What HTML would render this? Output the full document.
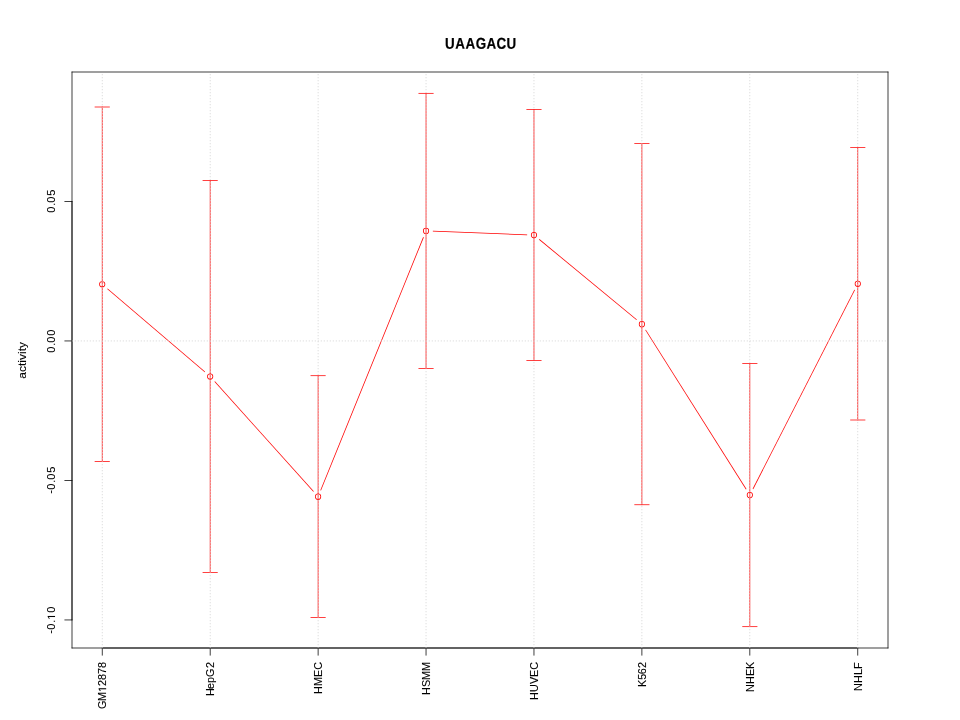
<!DOCTYPE html>
<html><head><meta charset="utf-8"><title>UAAGACU</title>
<style>
html,body{margin:0;padding:0;background:#fff;}
svg{display:block;will-change:transform;}
text{font-family:"Liberation Sans",sans-serif;fill:#000;}
.v{width:.75px;height:1.333px}
.h{width:1.333px;height:.75px}
</style></head><body>
<svg width="960" height="720" viewBox="0 0 960 720">
<rect width="960" height="720" fill="#fff"/>
<g fill="#f00" stroke="none">
<path d="M107.165 288.969L204.728 372.351L205.215 371.781L107.652 288.399Z"/>
<path d="M214.442 381.828L313.26 491.824L313.818 491.322L215 381.326Z"/>
<path d="M321.016 490.468L423.809 237.379L423.114 237.097L320.321 490.186Z"/>
<path d="M432.836 231.551L527.136 235.163L527.164 234.414L432.864 230.802Z"/>
<path d="M538.995 239.683L636.397 320.07L636.875 319.492L539.473 239.105Z"/>
<path d="M645.227 330.096L745.879 489.514L746.513 489.114L645.861 329.696Z"/>
<path d="M753.278 489.177L855.01 289.999L854.342 289.658L752.61 488.836Z"/>
<path fill-rule="evenodd" d="M99.145 284.25A3.075 3.075 0 1 0 105.295 284.25A3.075 3.075 0 1 0 99.145 284.25ZM99.895 284.25A2.325 2.325 0 1 0 104.545 284.25A2.325 2.325 0 1 0 99.895 284.25Z"/>
<path fill-rule="evenodd" d="M207.085 376.5A3.075 3.075 0 1 0 213.235 376.5A3.075 3.075 0 1 0 207.085 376.5ZM207.835 376.5A2.325 2.325 0 1 0 212.485 376.5A2.325 2.325 0 1 0 207.835 376.5Z"/>
<path fill-rule="evenodd" d="M315.025 496.65A3.075 3.075 0 1 0 321.175 496.65A3.075 3.075 0 1 0 315.025 496.65ZM315.775 496.65A2.325 2.325 0 1 0 320.425 496.65A2.325 2.325 0 1 0 315.775 496.65Z"/>
<path fill-rule="evenodd" d="M422.955 230.915A3.075 3.075 0 1 0 429.105 230.915A3.075 3.075 0 1 0 422.955 230.915ZM423.705 230.915A2.325 2.325 0 1 0 428.355 230.915A2.325 2.325 0 1 0 423.705 230.915Z"/>
<path fill-rule="evenodd" d="M530.895 235.05A3.075 3.075 0 1 0 537.045 235.05A3.075 3.075 0 1 0 530.895 235.05ZM531.645 235.05A2.325 2.325 0 1 0 536.295 235.05A2.325 2.325 0 1 0 531.645 235.05Z"/>
<path fill-rule="evenodd" d="M638.825 324.125A3.075 3.075 0 1 0 644.975 324.125A3.075 3.075 0 1 0 638.825 324.125ZM639.575 324.125A2.325 2.325 0 1 0 644.225 324.125A2.325 2.325 0 1 0 639.575 324.125Z"/>
<path fill-rule="evenodd" d="M746.765 495.085A3.075 3.075 0 1 0 752.915 495.085A3.075 3.075 0 1 0 746.765 495.085ZM747.515 495.085A2.325 2.325 0 1 0 752.165 495.085A2.325 2.325 0 1 0 747.515 495.085Z"/>
<path fill-rule="evenodd" d="M854.705 283.75A3.075 3.075 0 1 0 860.855 283.75A3.075 3.075 0 1 0 854.705 283.75ZM855.455 283.75A2.325 2.325 0 1 0 860.105 283.75A2.325 2.325 0 1 0 855.455 283.75Z"/>
</g>
<g fill="#000" stroke="none">
<rect x="71.625" y="201.075" width="0.75" height="419.25"/>
<rect x="64.425" y="201.075" width="7.95" height="0.75"/>
<rect x="64.425" y="340.575" width="7.95" height="0.75"/>
<rect x="64.425" y="480.075" width="7.95" height="0.75"/>
<rect x="64.425" y="619.575" width="7.95" height="0.75"/>
<rect x="71.625" y="71.625" width="0.75" height="576.75"/>
<rect x="71.625" y="71.625" width="816.75" height="0.75"/>
<rect x="887.625" y="71.625" width="0.75" height="576.75"/>
<rect x="71.625" y="647.625" width="816.75" height="0.75"/>
<rect x="101.845" y="647.625" width="756.31" height="0.75"/>
<rect x="101.845" y="647.625" width="0.75" height="7.95"/>
<rect x="209.785" y="647.625" width="0.75" height="7.95"/>
<rect x="317.725" y="647.625" width="0.75" height="7.95"/>
<rect x="425.655" y="647.625" width="0.75" height="7.95"/>
<rect x="533.595" y="647.625" width="0.75" height="7.95"/>
<rect x="641.525" y="647.625" width="0.75" height="7.95"/>
<rect x="749.465" y="647.625" width="0.75" height="7.95"/>
<rect x="857.405" y="647.625" width="0.75" height="7.95"/>
</g>
<g stroke="#000" stroke-width="0.1" stroke-linejoin="round">
<text transform="translate(0,48.3) rotate(0.05) scale(0.93,1.085)" font-size="14.4" font-weight="bold" stroke-width="0.2" x="478.571 489.542 500.456 511.648 523.198 533.949 544.539">UAAGACU</text>
<text transform="translate(26,0) rotate(-90) scale(1,0.88)" font-size="12" x="-378.687 -372.013 -366.013 -362.679 -360.013 -354.013 -351.347 -348.013">activity</text>
<text transform="translate(55,0) rotate(-90) scale(0.92,0.88)" font-size="12" x="-231.232 -223.768 -220.362 -212.754">0.05</text>
<text transform="translate(55,0) rotate(-90) scale(0.92,0.88)" font-size="12" x="-383.405 -375.942 -372.536 -364.927">0.00</text>
<text transform="translate(55,0) rotate(-90) scale(0.92,0.88)" font-size="12" x="-536.783 -532.319 -524.855 -521.449 -513.841" y="-0.909 0 0 0 0">-0.05</text>
<text transform="translate(55,0) rotate(-90) scale(0.92,0.88)" font-size="12" x="-688.957 -684.492 -677.029 -673.609 -666.014" y="-0.909 0 0 0 0">-0. 0</text><path transform="translate(55,619.72) rotate(-90) scale(0.005391,-0.005156)" d="M515 0V1237L197 1010V1180L530 1409H696V0Z" stroke-width="17.067"/>
<text transform="translate(106.12,0) rotate(-90) scale(1,1)" font-size="10.8" x="-709 -701 -692 -686 -680 -674 -668">GM 2878</text>
<path transform="translate(106.12,692) rotate(-90) scale(0.005273,-0.005273)" d="M515 0V1237L197 1010V1180L530 1409H696V0Z" stroke-width="18.963"/>
<text transform="translate(214.06,0) rotate(-90) scale(1,1)" font-size="10.8" x="-696 -689 -683 -677 -668">HepG2</text>
<text transform="translate(322,0) rotate(-90) scale(1,1)" font-size="10.8" x="-694 -686 -677 -669.7">HMEC</text>
<text transform="translate(429.93,0) rotate(-90) scale(1,1)" font-size="10.8" x="-695 -687 -680 -671">HSMM</text>
<text transform="translate(537.87,0) rotate(-90) scale(1,1)" font-size="10.8" x="-700 -692 -684 -677 -669.7">HUVEC</text>
<text transform="translate(645.8,0) rotate(-90) scale(1,1)" font-size="10.8" x="-687 -679.7 -674.3 -668">K562</text>
<text transform="translate(753.74,0) rotate(-90) scale(1,1)" font-size="10.8" x="-692 -684 -676 -669">NHEK</text>
<text transform="translate(861.68,0) rotate(-90) scale(1,1)" font-size="10.8" x="-691 -683 -675 -669">NHLF</text>
</g>
<g fill="#f00" stroke="none">
<rect x="101.845" y="106.625" width="0.75" height="355.25"/>
<rect x="94.645" y="106.625" width="15.15" height="0.75"/>
<rect x="94.645" y="461.125" width="15.15" height="0.75"/>
<rect x="209.785" y="180.125" width="0.75" height="392.75"/>
<rect x="202.585" y="180.125" width="15.15" height="0.75"/>
<rect x="202.585" y="572.125" width="15.15" height="0.75"/>
<rect x="317.725" y="375.325" width="0.75" height="242.65"/>
<rect x="310.525" y="375.325" width="15.15" height="0.75"/>
<rect x="310.525" y="617.225" width="15.15" height="0.75"/>
<rect x="425.655" y="92.955" width="0.75" height="275.92"/>
<rect x="418.455" y="92.955" width="15.15" height="0.75"/>
<rect x="418.455" y="368.125" width="15.15" height="0.75"/>
<rect x="533.595" y="109.225" width="0.75" height="251.65"/>
<rect x="526.395" y="109.225" width="15.15" height="0.75"/>
<rect x="526.395" y="360.125" width="15.15" height="0.75"/>
<rect x="641.525" y="143.125" width="0.75" height="362"/>
<rect x="634.325" y="143.125" width="15.15" height="0.75"/>
<rect x="634.325" y="504.375" width="15.15" height="0.75"/>
<rect x="749.465" y="363.125" width="0.75" height="263.92"/>
<rect x="742.265" y="363.125" width="15.15" height="0.75"/>
<rect x="742.265" y="626.295" width="15.15" height="0.75"/>
<rect x="857.405" y="147.125" width="0.75" height="273.25"/>
<rect x="850.205" y="147.125" width="15.15" height="0.75"/>
<rect x="850.205" y="419.625" width="15.15" height="0.75"/>
</g>
<g fill="#d3d3d3" stroke="none">
<rect class="v" x="101.845" y="646.958"/>
<rect class="v" x="101.845" y="643.958"/>
<rect class="v" x="101.845" y="640.958"/>
<rect class="v" x="101.845" y="637.958"/>
<rect class="v" x="101.845" y="634.958"/>
<rect class="v" x="101.845" y="631.958"/>
<rect class="v" x="101.845" y="628.958"/>
<rect class="v" x="101.845" y="625.958"/>
<rect class="v" x="101.845" y="622.958"/>
<rect class="v" x="101.845" y="619.958"/>
<rect class="v" x="101.845" y="616.958"/>
<rect class="v" x="101.845" y="613.958"/>
<rect class="v" x="101.845" y="610.958"/>
<rect class="v" x="101.845" y="607.958"/>
<rect class="v" x="101.845" y="604.958"/>
<rect class="v" x="101.845" y="601.958"/>
<rect class="v" x="101.845" y="598.958"/>
<rect class="v" x="101.845" y="595.958"/>
<rect class="v" x="101.845" y="592.958"/>
<rect class="v" x="101.845" y="589.958"/>
<rect class="v" x="101.845" y="586.958"/>
<rect class="v" x="101.845" y="583.958"/>
<rect class="v" x="101.845" y="580.958"/>
<rect class="v" x="101.845" y="577.958"/>
<rect class="v" x="101.845" y="574.958"/>
<rect class="v" x="101.845" y="571.958"/>
<rect class="v" x="101.845" y="568.958"/>
<rect class="v" x="101.845" y="565.958"/>
<rect class="v" x="101.845" y="562.958"/>
<rect class="v" x="101.845" y="559.958"/>
<rect class="v" x="101.845" y="556.958"/>
<rect class="v" x="101.845" y="553.958"/>
<rect class="v" x="101.845" y="550.958"/>
<rect class="v" x="101.845" y="547.958"/>
<rect class="v" x="101.845" y="544.958"/>
<rect class="v" x="101.845" y="541.958"/>
<rect class="v" x="101.845" y="538.958"/>
<rect class="v" x="101.845" y="535.958"/>
<rect class="v" x="101.845" y="532.958"/>
<rect class="v" x="101.845" y="529.958"/>
<rect class="v" x="101.845" y="526.958"/>
<rect class="v" x="101.845" y="523.958"/>
<rect class="v" x="101.845" y="520.958"/>
<rect class="v" x="101.845" y="517.958"/>
<rect class="v" x="101.845" y="514.958"/>
<rect class="v" x="101.845" y="511.959"/>
<rect class="v" x="101.845" y="508.959"/>
<rect class="v" x="101.845" y="505.959"/>
<rect class="v" x="101.845" y="502.959"/>
<rect class="v" x="101.845" y="499.959"/>
<rect class="v" x="101.845" y="496.959"/>
<rect class="v" x="101.845" y="493.959"/>
<rect class="v" x="101.845" y="490.959"/>
<rect class="v" x="101.845" y="487.959"/>
<rect class="v" x="101.845" y="484.959"/>
<rect class="v" x="101.845" y="481.959"/>
<rect class="v" x="101.845" y="478.959"/>
<rect class="v" x="101.845" y="475.959"/>
<rect class="v" x="101.845" y="472.959"/>
<rect class="v" x="101.845" y="469.959"/>
<rect class="v" x="101.845" y="466.959"/>
<rect class="v" x="101.845" y="463.959"/>
<rect class="v" x="101.845" y="460.959"/>
<rect class="v" x="101.845" y="457.959"/>
<rect class="v" x="101.845" y="454.959"/>
<rect class="v" x="101.845" y="451.959"/>
<rect class="v" x="101.845" y="448.959"/>
<rect class="v" x="101.845" y="445.959"/>
<rect class="v" x="101.845" y="442.959"/>
<rect class="v" x="101.845" y="439.959"/>
<rect class="v" x="101.845" y="436.959"/>
<rect class="v" x="101.845" y="433.959"/>
<rect class="v" x="101.845" y="430.959"/>
<rect class="v" x="101.845" y="427.959"/>
<rect class="v" x="101.845" y="424.959"/>
<rect class="v" x="101.845" y="421.959"/>
<rect class="v" x="101.845" y="418.959"/>
<rect class="v" x="101.845" y="415.959"/>
<rect class="v" x="101.845" y="412.959"/>
<rect class="v" x="101.845" y="409.959"/>
<rect class="v" x="101.845" y="406.959"/>
<rect class="v" x="101.845" y="403.959"/>
<rect class="v" x="101.845" y="400.959"/>
<rect class="v" x="101.845" y="397.959"/>
<rect class="v" x="101.845" y="394.959"/>
<rect class="v" x="101.845" y="391.959"/>
<rect class="v" x="101.845" y="388.959"/>
<rect class="v" x="101.845" y="385.959"/>
<rect class="v" x="101.845" y="382.959"/>
<rect class="v" x="101.845" y="379.959"/>
<rect class="v" x="101.845" y="376.959"/>
<rect class="v" x="101.845" y="373.959"/>
<rect class="v" x="101.845" y="370.959"/>
<rect class="v" x="101.845" y="367.959"/>
<rect class="v" x="101.845" y="364.959"/>
<rect class="v" x="101.845" y="361.959"/>
<rect class="v" x="101.845" y="358.959"/>
<rect class="v" x="101.845" y="355.959"/>
<rect class="v" x="101.845" y="352.959"/>
<rect class="v" x="101.845" y="349.959"/>
<rect class="v" x="101.845" y="346.959"/>
<rect class="v" x="101.845" y="343.959"/>
<rect class="v" x="101.845" y="340.959"/>
<rect class="v" x="101.845" y="337.959"/>
<rect class="v" x="101.845" y="334.959"/>
<rect class="v" x="101.845" y="331.959"/>
<rect class="v" x="101.845" y="328.959"/>
<rect class="v" x="101.845" y="325.959"/>
<rect class="v" x="101.845" y="322.959"/>
<rect class="v" x="101.845" y="319.959"/>
<rect class="v" x="101.845" y="316.959"/>
<rect class="v" x="101.845" y="313.959"/>
<rect class="v" x="101.845" y="310.959"/>
<rect class="v" x="101.845" y="307.959"/>
<rect class="v" x="101.845" y="304.959"/>
<rect class="v" x="101.845" y="301.959"/>
<rect class="v" x="101.845" y="298.959"/>
<rect class="v" x="101.845" y="295.959"/>
<rect class="v" x="101.845" y="292.959"/>
<rect class="v" x="101.845" y="289.959"/>
<rect class="v" x="101.845" y="286.959"/>
<rect class="v" x="101.845" y="283.959"/>
<rect class="v" x="101.845" y="280.959"/>
<rect class="v" x="101.845" y="277.959"/>
<rect class="v" x="101.845" y="274.959"/>
<rect class="v" x="101.845" y="271.959"/>
<rect class="v" x="101.845" y="268.959"/>
<rect class="v" x="101.845" y="265.959"/>
<rect class="v" x="101.845" y="262.959"/>
<rect class="v" x="101.845" y="259.959"/>
<rect class="v" x="101.845" y="256.959"/>
<rect class="v" x="101.845" y="253.958"/>
<rect class="v" x="101.845" y="250.958"/>
<rect class="v" x="101.845" y="247.958"/>
<rect class="v" x="101.845" y="244.958"/>
<rect class="v" x="101.845" y="241.958"/>
<rect class="v" x="101.845" y="238.958"/>
<rect class="v" x="101.845" y="235.958"/>
<rect class="v" x="101.845" y="232.958"/>
<rect class="v" x="101.845" y="229.958"/>
<rect class="v" x="101.845" y="226.958"/>
<rect class="v" x="101.845" y="223.958"/>
<rect class="v" x="101.845" y="220.958"/>
<rect class="v" x="101.845" y="217.958"/>
<rect class="v" x="101.845" y="214.958"/>
<rect class="v" x="101.845" y="211.958"/>
<rect class="v" x="101.845" y="208.958"/>
<rect class="v" x="101.845" y="205.958"/>
<rect class="v" x="101.845" y="202.958"/>
<rect class="v" x="101.845" y="199.958"/>
<rect class="v" x="101.845" y="196.958"/>
<rect class="v" x="101.845" y="193.958"/>
<rect class="v" x="101.845" y="190.958"/>
<rect class="v" x="101.845" y="187.958"/>
<rect class="v" x="101.845" y="184.958"/>
<rect class="v" x="101.845" y="181.958"/>
<rect class="v" x="101.845" y="178.958"/>
<rect class="v" x="101.845" y="175.958"/>
<rect class="v" x="101.845" y="172.958"/>
<rect class="v" x="101.845" y="169.958"/>
<rect class="v" x="101.845" y="166.958"/>
<rect class="v" x="101.845" y="163.958"/>
<rect class="v" x="101.845" y="160.958"/>
<rect class="v" x="101.845" y="157.958"/>
<rect class="v" x="101.845" y="154.958"/>
<rect class="v" x="101.845" y="151.958"/>
<rect class="v" x="101.845" y="148.958"/>
<rect class="v" x="101.845" y="145.958"/>
<rect class="v" x="101.845" y="142.958"/>
<rect class="v" x="101.845" y="139.958"/>
<rect class="v" x="101.845" y="136.958"/>
<rect class="v" x="101.845" y="133.958"/>
<rect class="v" x="101.845" y="130.958"/>
<rect class="v" x="101.845" y="127.959"/>
<rect class="v" x="101.845" y="124.959"/>
<rect class="v" x="101.845" y="121.959"/>
<rect class="v" x="101.845" y="118.959"/>
<rect class="v" x="101.845" y="115.959"/>
<rect class="v" x="101.845" y="112.959"/>
<rect class="v" x="101.845" y="109.959"/>
<rect class="v" x="101.845" y="106.959"/>
<rect class="v" x="101.845" y="103.959"/>
<rect class="v" x="101.845" y="100.959"/>
<rect class="v" x="101.845" y="97.959"/>
<rect class="v" x="101.845" y="94.959"/>
<rect class="v" x="101.845" y="91.959"/>
<rect class="v" x="101.845" y="88.959"/>
<rect class="v" x="101.845" y="85.959"/>
<rect class="v" x="101.845" y="82.959"/>
<rect class="v" x="101.845" y="79.959"/>
<rect class="v" x="101.845" y="76.959"/>
<rect class="v" x="101.845" y="73.959"/>
<rect class="v" x="209.785" y="646.958"/>
<rect class="v" x="209.785" y="643.958"/>
<rect class="v" x="209.785" y="640.958"/>
<rect class="v" x="209.785" y="637.958"/>
<rect class="v" x="209.785" y="634.958"/>
<rect class="v" x="209.785" y="631.958"/>
<rect class="v" x="209.785" y="628.958"/>
<rect class="v" x="209.785" y="625.958"/>
<rect class="v" x="209.785" y="622.958"/>
<rect class="v" x="209.785" y="619.958"/>
<rect class="v" x="209.785" y="616.958"/>
<rect class="v" x="209.785" y="613.958"/>
<rect class="v" x="209.785" y="610.958"/>
<rect class="v" x="209.785" y="607.958"/>
<rect class="v" x="209.785" y="604.958"/>
<rect class="v" x="209.785" y="601.958"/>
<rect class="v" x="209.785" y="598.958"/>
<rect class="v" x="209.785" y="595.958"/>
<rect class="v" x="209.785" y="592.958"/>
<rect class="v" x="209.785" y="589.958"/>
<rect class="v" x="209.785" y="586.958"/>
<rect class="v" x="209.785" y="583.958"/>
<rect class="v" x="209.785" y="580.958"/>
<rect class="v" x="209.785" y="577.958"/>
<rect class="v" x="209.785" y="574.958"/>
<rect class="v" x="209.785" y="571.958"/>
<rect class="v" x="209.785" y="568.958"/>
<rect class="v" x="209.785" y="565.958"/>
<rect class="v" x="209.785" y="562.958"/>
<rect class="v" x="209.785" y="559.958"/>
<rect class="v" x="209.785" y="556.958"/>
<rect class="v" x="209.785" y="553.958"/>
<rect class="v" x="209.785" y="550.958"/>
<rect class="v" x="209.785" y="547.958"/>
<rect class="v" x="209.785" y="544.958"/>
<rect class="v" x="209.785" y="541.958"/>
<rect class="v" x="209.785" y="538.958"/>
<rect class="v" x="209.785" y="535.958"/>
<rect class="v" x="209.785" y="532.958"/>
<rect class="v" x="209.785" y="529.958"/>
<rect class="v" x="209.785" y="526.958"/>
<rect class="v" x="209.785" y="523.958"/>
<rect class="v" x="209.785" y="520.958"/>
<rect class="v" x="209.785" y="517.958"/>
<rect class="v" x="209.785" y="514.958"/>
<rect class="v" x="209.785" y="511.959"/>
<rect class="v" x="209.785" y="508.959"/>
<rect class="v" x="209.785" y="505.959"/>
<rect class="v" x="209.785" y="502.959"/>
<rect class="v" x="209.785" y="499.959"/>
<rect class="v" x="209.785" y="496.959"/>
<rect class="v" x="209.785" y="493.959"/>
<rect class="v" x="209.785" y="490.959"/>
<rect class="v" x="209.785" y="487.959"/>
<rect class="v" x="209.785" y="484.959"/>
<rect class="v" x="209.785" y="481.959"/>
<rect class="v" x="209.785" y="478.959"/>
<rect class="v" x="209.785" y="475.959"/>
<rect class="v" x="209.785" y="472.959"/>
<rect class="v" x="209.785" y="469.959"/>
<rect class="v" x="209.785" y="466.959"/>
<rect class="v" x="209.785" y="463.959"/>
<rect class="v" x="209.785" y="460.959"/>
<rect class="v" x="209.785" y="457.959"/>
<rect class="v" x="209.785" y="454.959"/>
<rect class="v" x="209.785" y="451.959"/>
<rect class="v" x="209.785" y="448.959"/>
<rect class="v" x="209.785" y="445.959"/>
<rect class="v" x="209.785" y="442.959"/>
<rect class="v" x="209.785" y="439.959"/>
<rect class="v" x="209.785" y="436.959"/>
<rect class="v" x="209.785" y="433.959"/>
<rect class="v" x="209.785" y="430.959"/>
<rect class="v" x="209.785" y="427.959"/>
<rect class="v" x="209.785" y="424.959"/>
<rect class="v" x="209.785" y="421.959"/>
<rect class="v" x="209.785" y="418.959"/>
<rect class="v" x="209.785" y="415.959"/>
<rect class="v" x="209.785" y="412.959"/>
<rect class="v" x="209.785" y="409.959"/>
<rect class="v" x="209.785" y="406.959"/>
<rect class="v" x="209.785" y="403.959"/>
<rect class="v" x="209.785" y="400.959"/>
<rect class="v" x="209.785" y="397.959"/>
<rect class="v" x="209.785" y="394.959"/>
<rect class="v" x="209.785" y="391.959"/>
<rect class="v" x="209.785" y="388.959"/>
<rect class="v" x="209.785" y="385.959"/>
<rect class="v" x="209.785" y="382.959"/>
<rect class="v" x="209.785" y="379.959"/>
<rect class="v" x="209.785" y="376.959"/>
<rect class="v" x="209.785" y="373.959"/>
<rect class="v" x="209.785" y="370.959"/>
<rect class="v" x="209.785" y="367.959"/>
<rect class="v" x="209.785" y="364.959"/>
<rect class="v" x="209.785" y="361.959"/>
<rect class="v" x="209.785" y="358.959"/>
<rect class="v" x="209.785" y="355.959"/>
<rect class="v" x="209.785" y="352.959"/>
<rect class="v" x="209.785" y="349.959"/>
<rect class="v" x="209.785" y="346.959"/>
<rect class="v" x="209.785" y="343.959"/>
<rect class="v" x="209.785" y="340.959"/>
<rect class="v" x="209.785" y="337.959"/>
<rect class="v" x="209.785" y="334.959"/>
<rect class="v" x="209.785" y="331.959"/>
<rect class="v" x="209.785" y="328.959"/>
<rect class="v" x="209.785" y="325.959"/>
<rect class="v" x="209.785" y="322.959"/>
<rect class="v" x="209.785" y="319.959"/>
<rect class="v" x="209.785" y="316.959"/>
<rect class="v" x="209.785" y="313.959"/>
<rect class="v" x="209.785" y="310.959"/>
<rect class="v" x="209.785" y="307.959"/>
<rect class="v" x="209.785" y="304.959"/>
<rect class="v" x="209.785" y="301.959"/>
<rect class="v" x="209.785" y="298.959"/>
<rect class="v" x="209.785" y="295.959"/>
<rect class="v" x="209.785" y="292.959"/>
<rect class="v" x="209.785" y="289.959"/>
<rect class="v" x="209.785" y="286.959"/>
<rect class="v" x="209.785" y="283.959"/>
<rect class="v" x="209.785" y="280.959"/>
<rect class="v" x="209.785" y="277.959"/>
<rect class="v" x="209.785" y="274.959"/>
<rect class="v" x="209.785" y="271.959"/>
<rect class="v" x="209.785" y="268.959"/>
<rect class="v" x="209.785" y="265.959"/>
<rect class="v" x="209.785" y="262.959"/>
<rect class="v" x="209.785" y="259.959"/>
<rect class="v" x="209.785" y="256.959"/>
<rect class="v" x="209.785" y="253.958"/>
<rect class="v" x="209.785" y="250.958"/>
<rect class="v" x="209.785" y="247.958"/>
<rect class="v" x="209.785" y="244.958"/>
<rect class="v" x="209.785" y="241.958"/>
<rect class="v" x="209.785" y="238.958"/>
<rect class="v" x="209.785" y="235.958"/>
<rect class="v" x="209.785" y="232.958"/>
<rect class="v" x="209.785" y="229.958"/>
<rect class="v" x="209.785" y="226.958"/>
<rect class="v" x="209.785" y="223.958"/>
<rect class="v" x="209.785" y="220.958"/>
<rect class="v" x="209.785" y="217.958"/>
<rect class="v" x="209.785" y="214.958"/>
<rect class="v" x="209.785" y="211.958"/>
<rect class="v" x="209.785" y="208.958"/>
<rect class="v" x="209.785" y="205.958"/>
<rect class="v" x="209.785" y="202.958"/>
<rect class="v" x="209.785" y="199.958"/>
<rect class="v" x="209.785" y="196.958"/>
<rect class="v" x="209.785" y="193.958"/>
<rect class="v" x="209.785" y="190.958"/>
<rect class="v" x="209.785" y="187.958"/>
<rect class="v" x="209.785" y="184.958"/>
<rect class="v" x="209.785" y="181.958"/>
<rect class="v" x="209.785" y="178.958"/>
<rect class="v" x="209.785" y="175.958"/>
<rect class="v" x="209.785" y="172.958"/>
<rect class="v" x="209.785" y="169.958"/>
<rect class="v" x="209.785" y="166.958"/>
<rect class="v" x="209.785" y="163.958"/>
<rect class="v" x="209.785" y="160.958"/>
<rect class="v" x="209.785" y="157.958"/>
<rect class="v" x="209.785" y="154.958"/>
<rect class="v" x="209.785" y="151.958"/>
<rect class="v" x="209.785" y="148.958"/>
<rect class="v" x="209.785" y="145.958"/>
<rect class="v" x="209.785" y="142.958"/>
<rect class="v" x="209.785" y="139.958"/>
<rect class="v" x="209.785" y="136.958"/>
<rect class="v" x="209.785" y="133.958"/>
<rect class="v" x="209.785" y="130.958"/>
<rect class="v" x="209.785" y="127.959"/>
<rect class="v" x="209.785" y="124.959"/>
<rect class="v" x="209.785" y="121.959"/>
<rect class="v" x="209.785" y="118.959"/>
<rect class="v" x="209.785" y="115.959"/>
<rect class="v" x="209.785" y="112.959"/>
<rect class="v" x="209.785" y="109.959"/>
<rect class="v" x="209.785" y="106.959"/>
<rect class="v" x="209.785" y="103.959"/>
<rect class="v" x="209.785" y="100.959"/>
<rect class="v" x="209.785" y="97.959"/>
<rect class="v" x="209.785" y="94.959"/>
<rect class="v" x="209.785" y="91.959"/>
<rect class="v" x="209.785" y="88.959"/>
<rect class="v" x="209.785" y="85.959"/>
<rect class="v" x="209.785" y="82.959"/>
<rect class="v" x="209.785" y="79.959"/>
<rect class="v" x="209.785" y="76.959"/>
<rect class="v" x="209.785" y="73.959"/>
<rect class="v" x="317.725" y="646.958"/>
<rect class="v" x="317.725" y="643.958"/>
<rect class="v" x="317.725" y="640.958"/>
<rect class="v" x="317.725" y="637.958"/>
<rect class="v" x="317.725" y="634.958"/>
<rect class="v" x="317.725" y="631.958"/>
<rect class="v" x="317.725" y="628.958"/>
<rect class="v" x="317.725" y="625.958"/>
<rect class="v" x="317.725" y="622.958"/>
<rect class="v" x="317.725" y="619.958"/>
<rect class="v" x="317.725" y="616.958"/>
<rect class="v" x="317.725" y="613.958"/>
<rect class="v" x="317.725" y="610.958"/>
<rect class="v" x="317.725" y="607.958"/>
<rect class="v" x="317.725" y="604.958"/>
<rect class="v" x="317.725" y="601.958"/>
<rect class="v" x="317.725" y="598.958"/>
<rect class="v" x="317.725" y="595.958"/>
<rect class="v" x="317.725" y="592.958"/>
<rect class="v" x="317.725" y="589.958"/>
<rect class="v" x="317.725" y="586.958"/>
<rect class="v" x="317.725" y="583.958"/>
<rect class="v" x="317.725" y="580.958"/>
<rect class="v" x="317.725" y="577.958"/>
<rect class="v" x="317.725" y="574.958"/>
<rect class="v" x="317.725" y="571.958"/>
<rect class="v" x="317.725" y="568.958"/>
<rect class="v" x="317.725" y="565.958"/>
<rect class="v" x="317.725" y="562.958"/>
<rect class="v" x="317.725" y="559.958"/>
<rect class="v" x="317.725" y="556.958"/>
<rect class="v" x="317.725" y="553.958"/>
<rect class="v" x="317.725" y="550.958"/>
<rect class="v" x="317.725" y="547.958"/>
<rect class="v" x="317.725" y="544.958"/>
<rect class="v" x="317.725" y="541.958"/>
<rect class="v" x="317.725" y="538.958"/>
<rect class="v" x="317.725" y="535.958"/>
<rect class="v" x="317.725" y="532.958"/>
<rect class="v" x="317.725" y="529.958"/>
<rect class="v" x="317.725" y="526.958"/>
<rect class="v" x="317.725" y="523.958"/>
<rect class="v" x="317.725" y="520.958"/>
<rect class="v" x="317.725" y="517.958"/>
<rect class="v" x="317.725" y="514.958"/>
<rect class="v" x="317.725" y="511.959"/>
<rect class="v" x="317.725" y="508.959"/>
<rect class="v" x="317.725" y="505.959"/>
<rect class="v" x="317.725" y="502.959"/>
<rect class="v" x="317.725" y="499.959"/>
<rect class="v" x="317.725" y="496.959"/>
<rect class="v" x="317.725" y="493.959"/>
<rect class="v" x="317.725" y="490.959"/>
<rect class="v" x="317.725" y="487.959"/>
<rect class="v" x="317.725" y="484.959"/>
<rect class="v" x="317.725" y="481.959"/>
<rect class="v" x="317.725" y="478.959"/>
<rect class="v" x="317.725" y="475.959"/>
<rect class="v" x="317.725" y="472.959"/>
<rect class="v" x="317.725" y="469.959"/>
<rect class="v" x="317.725" y="466.959"/>
<rect class="v" x="317.725" y="463.959"/>
<rect class="v" x="317.725" y="460.959"/>
<rect class="v" x="317.725" y="457.959"/>
<rect class="v" x="317.725" y="454.959"/>
<rect class="v" x="317.725" y="451.959"/>
<rect class="v" x="317.725" y="448.959"/>
<rect class="v" x="317.725" y="445.959"/>
<rect class="v" x="317.725" y="442.959"/>
<rect class="v" x="317.725" y="439.959"/>
<rect class="v" x="317.725" y="436.959"/>
<rect class="v" x="317.725" y="433.959"/>
<rect class="v" x="317.725" y="430.959"/>
<rect class="v" x="317.725" y="427.959"/>
<rect class="v" x="317.725" y="424.959"/>
<rect class="v" x="317.725" y="421.959"/>
<rect class="v" x="317.725" y="418.959"/>
<rect class="v" x="317.725" y="415.959"/>
<rect class="v" x="317.725" y="412.959"/>
<rect class="v" x="317.725" y="409.959"/>
<rect class="v" x="317.725" y="406.959"/>
<rect class="v" x="317.725" y="403.959"/>
<rect class="v" x="317.725" y="400.959"/>
<rect class="v" x="317.725" y="397.959"/>
<rect class="v" x="317.725" y="394.959"/>
<rect class="v" x="317.725" y="391.959"/>
<rect class="v" x="317.725" y="388.959"/>
<rect class="v" x="317.725" y="385.959"/>
<rect class="v" x="317.725" y="382.959"/>
<rect class="v" x="317.725" y="379.959"/>
<rect class="v" x="317.725" y="376.959"/>
<rect class="v" x="317.725" y="373.959"/>
<rect class="v" x="317.725" y="370.959"/>
<rect class="v" x="317.725" y="367.959"/>
<rect class="v" x="317.725" y="364.959"/>
<rect class="v" x="317.725" y="361.959"/>
<rect class="v" x="317.725" y="358.959"/>
<rect class="v" x="317.725" y="355.959"/>
<rect class="v" x="317.725" y="352.959"/>
<rect class="v" x="317.725" y="349.959"/>
<rect class="v" x="317.725" y="346.959"/>
<rect class="v" x="317.725" y="343.959"/>
<rect class="v" x="317.725" y="340.959"/>
<rect class="v" x="317.725" y="337.959"/>
<rect class="v" x="317.725" y="334.959"/>
<rect class="v" x="317.725" y="331.959"/>
<rect class="v" x="317.725" y="328.959"/>
<rect class="v" x="317.725" y="325.959"/>
<rect class="v" x="317.725" y="322.959"/>
<rect class="v" x="317.725" y="319.959"/>
<rect class="v" x="317.725" y="316.959"/>
<rect class="v" x="317.725" y="313.959"/>
<rect class="v" x="317.725" y="310.959"/>
<rect class="v" x="317.725" y="307.959"/>
<rect class="v" x="317.725" y="304.959"/>
<rect class="v" x="317.725" y="301.959"/>
<rect class="v" x="317.725" y="298.959"/>
<rect class="v" x="317.725" y="295.959"/>
<rect class="v" x="317.725" y="292.959"/>
<rect class="v" x="317.725" y="289.959"/>
<rect class="v" x="317.725" y="286.959"/>
<rect class="v" x="317.725" y="283.959"/>
<rect class="v" x="317.725" y="280.959"/>
<rect class="v" x="317.725" y="277.959"/>
<rect class="v" x="317.725" y="274.959"/>
<rect class="v" x="317.725" y="271.959"/>
<rect class="v" x="317.725" y="268.959"/>
<rect class="v" x="317.725" y="265.959"/>
<rect class="v" x="317.725" y="262.959"/>
<rect class="v" x="317.725" y="259.959"/>
<rect class="v" x="317.725" y="256.959"/>
<rect class="v" x="317.725" y="253.958"/>
<rect class="v" x="317.725" y="250.958"/>
<rect class="v" x="317.725" y="247.958"/>
<rect class="v" x="317.725" y="244.958"/>
<rect class="v" x="317.725" y="241.958"/>
<rect class="v" x="317.725" y="238.958"/>
<rect class="v" x="317.725" y="235.958"/>
<rect class="v" x="317.725" y="232.958"/>
<rect class="v" x="317.725" y="229.958"/>
<rect class="v" x="317.725" y="226.958"/>
<rect class="v" x="317.725" y="223.958"/>
<rect class="v" x="317.725" y="220.958"/>
<rect class="v" x="317.725" y="217.958"/>
<rect class="v" x="317.725" y="214.958"/>
<rect class="v" x="317.725" y="211.958"/>
<rect class="v" x="317.725" y="208.958"/>
<rect class="v" x="317.725" y="205.958"/>
<rect class="v" x="317.725" y="202.958"/>
<rect class="v" x="317.725" y="199.958"/>
<rect class="v" x="317.725" y="196.958"/>
<rect class="v" x="317.725" y="193.958"/>
<rect class="v" x="317.725" y="190.958"/>
<rect class="v" x="317.725" y="187.958"/>
<rect class="v" x="317.725" y="184.958"/>
<rect class="v" x="317.725" y="181.958"/>
<rect class="v" x="317.725" y="178.958"/>
<rect class="v" x="317.725" y="175.958"/>
<rect class="v" x="317.725" y="172.958"/>
<rect class="v" x="317.725" y="169.958"/>
<rect class="v" x="317.725" y="166.958"/>
<rect class="v" x="317.725" y="163.958"/>
<rect class="v" x="317.725" y="160.958"/>
<rect class="v" x="317.725" y="157.958"/>
<rect class="v" x="317.725" y="154.958"/>
<rect class="v" x="317.725" y="151.958"/>
<rect class="v" x="317.725" y="148.958"/>
<rect class="v" x="317.725" y="145.958"/>
<rect class="v" x="317.725" y="142.958"/>
<rect class="v" x="317.725" y="139.958"/>
<rect class="v" x="317.725" y="136.958"/>
<rect class="v" x="317.725" y="133.958"/>
<rect class="v" x="317.725" y="130.958"/>
<rect class="v" x="317.725" y="127.959"/>
<rect class="v" x="317.725" y="124.959"/>
<rect class="v" x="317.725" y="121.959"/>
<rect class="v" x="317.725" y="118.959"/>
<rect class="v" x="317.725" y="115.959"/>
<rect class="v" x="317.725" y="112.959"/>
<rect class="v" x="317.725" y="109.959"/>
<rect class="v" x="317.725" y="106.959"/>
<rect class="v" x="317.725" y="103.959"/>
<rect class="v" x="317.725" y="100.959"/>
<rect class="v" x="317.725" y="97.959"/>
<rect class="v" x="317.725" y="94.959"/>
<rect class="v" x="317.725" y="91.959"/>
<rect class="v" x="317.725" y="88.959"/>
<rect class="v" x="317.725" y="85.959"/>
<rect class="v" x="317.725" y="82.959"/>
<rect class="v" x="317.725" y="79.959"/>
<rect class="v" x="317.725" y="76.959"/>
<rect class="v" x="317.725" y="73.959"/>
<rect class="v" x="425.655" y="646.958"/>
<rect class="v" x="425.655" y="643.958"/>
<rect class="v" x="425.655" y="640.958"/>
<rect class="v" x="425.655" y="637.958"/>
<rect class="v" x="425.655" y="634.958"/>
<rect class="v" x="425.655" y="631.958"/>
<rect class="v" x="425.655" y="628.958"/>
<rect class="v" x="425.655" y="625.958"/>
<rect class="v" x="425.655" y="622.958"/>
<rect class="v" x="425.655" y="619.958"/>
<rect class="v" x="425.655" y="616.958"/>
<rect class="v" x="425.655" y="613.958"/>
<rect class="v" x="425.655" y="610.958"/>
<rect class="v" x="425.655" y="607.958"/>
<rect class="v" x="425.655" y="604.958"/>
<rect class="v" x="425.655" y="601.958"/>
<rect class="v" x="425.655" y="598.958"/>
<rect class="v" x="425.655" y="595.958"/>
<rect class="v" x="425.655" y="592.958"/>
<rect class="v" x="425.655" y="589.958"/>
<rect class="v" x="425.655" y="586.958"/>
<rect class="v" x="425.655" y="583.958"/>
<rect class="v" x="425.655" y="580.958"/>
<rect class="v" x="425.655" y="577.958"/>
<rect class="v" x="425.655" y="574.958"/>
<rect class="v" x="425.655" y="571.958"/>
<rect class="v" x="425.655" y="568.958"/>
<rect class="v" x="425.655" y="565.958"/>
<rect class="v" x="425.655" y="562.958"/>
<rect class="v" x="425.655" y="559.958"/>
<rect class="v" x="425.655" y="556.958"/>
<rect class="v" x="425.655" y="553.958"/>
<rect class="v" x="425.655" y="550.958"/>
<rect class="v" x="425.655" y="547.958"/>
<rect class="v" x="425.655" y="544.958"/>
<rect class="v" x="425.655" y="541.958"/>
<rect class="v" x="425.655" y="538.958"/>
<rect class="v" x="425.655" y="535.958"/>
<rect class="v" x="425.655" y="532.958"/>
<rect class="v" x="425.655" y="529.958"/>
<rect class="v" x="425.655" y="526.958"/>
<rect class="v" x="425.655" y="523.958"/>
<rect class="v" x="425.655" y="520.958"/>
<rect class="v" x="425.655" y="517.958"/>
<rect class="v" x="425.655" y="514.958"/>
<rect class="v" x="425.655" y="511.959"/>
<rect class="v" x="425.655" y="508.959"/>
<rect class="v" x="425.655" y="505.959"/>
<rect class="v" x="425.655" y="502.959"/>
<rect class="v" x="425.655" y="499.959"/>
<rect class="v" x="425.655" y="496.959"/>
<rect class="v" x="425.655" y="493.959"/>
<rect class="v" x="425.655" y="490.959"/>
<rect class="v" x="425.655" y="487.959"/>
<rect class="v" x="425.655" y="484.959"/>
<rect class="v" x="425.655" y="481.959"/>
<rect class="v" x="425.655" y="478.959"/>
<rect class="v" x="425.655" y="475.959"/>
<rect class="v" x="425.655" y="472.959"/>
<rect class="v" x="425.655" y="469.959"/>
<rect class="v" x="425.655" y="466.959"/>
<rect class="v" x="425.655" y="463.959"/>
<rect class="v" x="425.655" y="460.959"/>
<rect class="v" x="425.655" y="457.959"/>
<rect class="v" x="425.655" y="454.959"/>
<rect class="v" x="425.655" y="451.959"/>
<rect class="v" x="425.655" y="448.959"/>
<rect class="v" x="425.655" y="445.959"/>
<rect class="v" x="425.655" y="442.959"/>
<rect class="v" x="425.655" y="439.959"/>
<rect class="v" x="425.655" y="436.959"/>
<rect class="v" x="425.655" y="433.959"/>
<rect class="v" x="425.655" y="430.959"/>
<rect class="v" x="425.655" y="427.959"/>
<rect class="v" x="425.655" y="424.959"/>
<rect class="v" x="425.655" y="421.959"/>
<rect class="v" x="425.655" y="418.959"/>
<rect class="v" x="425.655" y="415.959"/>
<rect class="v" x="425.655" y="412.959"/>
<rect class="v" x="425.655" y="409.959"/>
<rect class="v" x="425.655" y="406.959"/>
<rect class="v" x="425.655" y="403.959"/>
<rect class="v" x="425.655" y="400.959"/>
<rect class="v" x="425.655" y="397.959"/>
<rect class="v" x="425.655" y="394.959"/>
<rect class="v" x="425.655" y="391.959"/>
<rect class="v" x="425.655" y="388.959"/>
<rect class="v" x="425.655" y="385.959"/>
<rect class="v" x="425.655" y="382.959"/>
<rect class="v" x="425.655" y="379.959"/>
<rect class="v" x="425.655" y="376.959"/>
<rect class="v" x="425.655" y="373.959"/>
<rect class="v" x="425.655" y="370.959"/>
<rect class="v" x="425.655" y="367.959"/>
<rect class="v" x="425.655" y="364.959"/>
<rect class="v" x="425.655" y="361.959"/>
<rect class="v" x="425.655" y="358.959"/>
<rect class="v" x="425.655" y="355.959"/>
<rect class="v" x="425.655" y="352.959"/>
<rect class="v" x="425.655" y="349.959"/>
<rect class="v" x="425.655" y="346.959"/>
<rect class="v" x="425.655" y="343.959"/>
<rect class="v" x="425.655" y="340.959"/>
<rect class="v" x="425.655" y="337.959"/>
<rect class="v" x="425.655" y="334.959"/>
<rect class="v" x="425.655" y="331.959"/>
<rect class="v" x="425.655" y="328.959"/>
<rect class="v" x="425.655" y="325.959"/>
<rect class="v" x="425.655" y="322.959"/>
<rect class="v" x="425.655" y="319.959"/>
<rect class="v" x="425.655" y="316.959"/>
<rect class="v" x="425.655" y="313.959"/>
<rect class="v" x="425.655" y="310.959"/>
<rect class="v" x="425.655" y="307.959"/>
<rect class="v" x="425.655" y="304.959"/>
<rect class="v" x="425.655" y="301.959"/>
<rect class="v" x="425.655" y="298.959"/>
<rect class="v" x="425.655" y="295.959"/>
<rect class="v" x="425.655" y="292.959"/>
<rect class="v" x="425.655" y="289.959"/>
<rect class="v" x="425.655" y="286.959"/>
<rect class="v" x="425.655" y="283.959"/>
<rect class="v" x="425.655" y="280.959"/>
<rect class="v" x="425.655" y="277.959"/>
<rect class="v" x="425.655" y="274.959"/>
<rect class="v" x="425.655" y="271.959"/>
<rect class="v" x="425.655" y="268.959"/>
<rect class="v" x="425.655" y="265.959"/>
<rect class="v" x="425.655" y="262.959"/>
<rect class="v" x="425.655" y="259.959"/>
<rect class="v" x="425.655" y="256.959"/>
<rect class="v" x="425.655" y="253.958"/>
<rect class="v" x="425.655" y="250.958"/>
<rect class="v" x="425.655" y="247.958"/>
<rect class="v" x="425.655" y="244.958"/>
<rect class="v" x="425.655" y="241.958"/>
<rect class="v" x="425.655" y="238.958"/>
<rect class="v" x="425.655" y="235.958"/>
<rect class="v" x="425.655" y="232.958"/>
<rect class="v" x="425.655" y="229.958"/>
<rect class="v" x="425.655" y="226.958"/>
<rect class="v" x="425.655" y="223.958"/>
<rect class="v" x="425.655" y="220.958"/>
<rect class="v" x="425.655" y="217.958"/>
<rect class="v" x="425.655" y="214.958"/>
<rect class="v" x="425.655" y="211.958"/>
<rect class="v" x="425.655" y="208.958"/>
<rect class="v" x="425.655" y="205.958"/>
<rect class="v" x="425.655" y="202.958"/>
<rect class="v" x="425.655" y="199.958"/>
<rect class="v" x="425.655" y="196.958"/>
<rect class="v" x="425.655" y="193.958"/>
<rect class="v" x="425.655" y="190.958"/>
<rect class="v" x="425.655" y="187.958"/>
<rect class="v" x="425.655" y="184.958"/>
<rect class="v" x="425.655" y="181.958"/>
<rect class="v" x="425.655" y="178.958"/>
<rect class="v" x="425.655" y="175.958"/>
<rect class="v" x="425.655" y="172.958"/>
<rect class="v" x="425.655" y="169.958"/>
<rect class="v" x="425.655" y="166.958"/>
<rect class="v" x="425.655" y="163.958"/>
<rect class="v" x="425.655" y="160.958"/>
<rect class="v" x="425.655" y="157.958"/>
<rect class="v" x="425.655" y="154.958"/>
<rect class="v" x="425.655" y="151.958"/>
<rect class="v" x="425.655" y="148.958"/>
<rect class="v" x="425.655" y="145.958"/>
<rect class="v" x="425.655" y="142.958"/>
<rect class="v" x="425.655" y="139.958"/>
<rect class="v" x="425.655" y="136.958"/>
<rect class="v" x="425.655" y="133.958"/>
<rect class="v" x="425.655" y="130.958"/>
<rect class="v" x="425.655" y="127.959"/>
<rect class="v" x="425.655" y="124.959"/>
<rect class="v" x="425.655" y="121.959"/>
<rect class="v" x="425.655" y="118.959"/>
<rect class="v" x="425.655" y="115.959"/>
<rect class="v" x="425.655" y="112.959"/>
<rect class="v" x="425.655" y="109.959"/>
<rect class="v" x="425.655" y="106.959"/>
<rect class="v" x="425.655" y="103.959"/>
<rect class="v" x="425.655" y="100.959"/>
<rect class="v" x="425.655" y="97.959"/>
<rect class="v" x="425.655" y="94.959"/>
<rect class="v" x="425.655" y="91.959"/>
<rect class="v" x="425.655" y="88.959"/>
<rect class="v" x="425.655" y="85.959"/>
<rect class="v" x="425.655" y="82.959"/>
<rect class="v" x="425.655" y="79.959"/>
<rect class="v" x="425.655" y="76.959"/>
<rect class="v" x="425.655" y="73.959"/>
<rect class="v" x="533.595" y="646.958"/>
<rect class="v" x="533.595" y="643.958"/>
<rect class="v" x="533.595" y="640.958"/>
<rect class="v" x="533.595" y="637.958"/>
<rect class="v" x="533.595" y="634.958"/>
<rect class="v" x="533.595" y="631.958"/>
<rect class="v" x="533.595" y="628.958"/>
<rect class="v" x="533.595" y="625.958"/>
<rect class="v" x="533.595" y="622.958"/>
<rect class="v" x="533.595" y="619.958"/>
<rect class="v" x="533.595" y="616.958"/>
<rect class="v" x="533.595" y="613.958"/>
<rect class="v" x="533.595" y="610.958"/>
<rect class="v" x="533.595" y="607.958"/>
<rect class="v" x="533.595" y="604.958"/>
<rect class="v" x="533.595" y="601.958"/>
<rect class="v" x="533.595" y="598.958"/>
<rect class="v" x="533.595" y="595.958"/>
<rect class="v" x="533.595" y="592.958"/>
<rect class="v" x="533.595" y="589.958"/>
<rect class="v" x="533.595" y="586.958"/>
<rect class="v" x="533.595" y="583.958"/>
<rect class="v" x="533.595" y="580.958"/>
<rect class="v" x="533.595" y="577.958"/>
<rect class="v" x="533.595" y="574.958"/>
<rect class="v" x="533.595" y="571.958"/>
<rect class="v" x="533.595" y="568.958"/>
<rect class="v" x="533.595" y="565.958"/>
<rect class="v" x="533.595" y="562.958"/>
<rect class="v" x="533.595" y="559.958"/>
<rect class="v" x="533.595" y="556.958"/>
<rect class="v" x="533.595" y="553.958"/>
<rect class="v" x="533.595" y="550.958"/>
<rect class="v" x="533.595" y="547.958"/>
<rect class="v" x="533.595" y="544.958"/>
<rect class="v" x="533.595" y="541.958"/>
<rect class="v" x="533.595" y="538.958"/>
<rect class="v" x="533.595" y="535.958"/>
<rect class="v" x="533.595" y="532.958"/>
<rect class="v" x="533.595" y="529.958"/>
<rect class="v" x="533.595" y="526.958"/>
<rect class="v" x="533.595" y="523.958"/>
<rect class="v" x="533.595" y="520.958"/>
<rect class="v" x="533.595" y="517.958"/>
<rect class="v" x="533.595" y="514.958"/>
<rect class="v" x="533.595" y="511.959"/>
<rect class="v" x="533.595" y="508.959"/>
<rect class="v" x="533.595" y="505.959"/>
<rect class="v" x="533.595" y="502.959"/>
<rect class="v" x="533.595" y="499.959"/>
<rect class="v" x="533.595" y="496.959"/>
<rect class="v" x="533.595" y="493.959"/>
<rect class="v" x="533.595" y="490.959"/>
<rect class="v" x="533.595" y="487.959"/>
<rect class="v" x="533.595" y="484.959"/>
<rect class="v" x="533.595" y="481.959"/>
<rect class="v" x="533.595" y="478.959"/>
<rect class="v" x="533.595" y="475.959"/>
<rect class="v" x="533.595" y="472.959"/>
<rect class="v" x="533.595" y="469.959"/>
<rect class="v" x="533.595" y="466.959"/>
<rect class="v" x="533.595" y="463.959"/>
<rect class="v" x="533.595" y="460.959"/>
<rect class="v" x="533.595" y="457.959"/>
<rect class="v" x="533.595" y="454.959"/>
<rect class="v" x="533.595" y="451.959"/>
<rect class="v" x="533.595" y="448.959"/>
<rect class="v" x="533.595" y="445.959"/>
<rect class="v" x="533.595" y="442.959"/>
<rect class="v" x="533.595" y="439.959"/>
<rect class="v" x="533.595" y="436.959"/>
<rect class="v" x="533.595" y="433.959"/>
<rect class="v" x="533.595" y="430.959"/>
<rect class="v" x="533.595" y="427.959"/>
<rect class="v" x="533.595" y="424.959"/>
<rect class="v" x="533.595" y="421.959"/>
<rect class="v" x="533.595" y="418.959"/>
<rect class="v" x="533.595" y="415.959"/>
<rect class="v" x="533.595" y="412.959"/>
<rect class="v" x="533.595" y="409.959"/>
<rect class="v" x="533.595" y="406.959"/>
<rect class="v" x="533.595" y="403.959"/>
<rect class="v" x="533.595" y="400.959"/>
<rect class="v" x="533.595" y="397.959"/>
<rect class="v" x="533.595" y="394.959"/>
<rect class="v" x="533.595" y="391.959"/>
<rect class="v" x="533.595" y="388.959"/>
<rect class="v" x="533.595" y="385.959"/>
<rect class="v" x="533.595" y="382.959"/>
<rect class="v" x="533.595" y="379.959"/>
<rect class="v" x="533.595" y="376.959"/>
<rect class="v" x="533.595" y="373.959"/>
<rect class="v" x="533.595" y="370.959"/>
<rect class="v" x="533.595" y="367.959"/>
<rect class="v" x="533.595" y="364.959"/>
<rect class="v" x="533.595" y="361.959"/>
<rect class="v" x="533.595" y="358.959"/>
<rect class="v" x="533.595" y="355.959"/>
<rect class="v" x="533.595" y="352.959"/>
<rect class="v" x="533.595" y="349.959"/>
<rect class="v" x="533.595" y="346.959"/>
<rect class="v" x="533.595" y="343.959"/>
<rect class="v" x="533.595" y="340.959"/>
<rect class="v" x="533.595" y="337.959"/>
<rect class="v" x="533.595" y="334.959"/>
<rect class="v" x="533.595" y="331.959"/>
<rect class="v" x="533.595" y="328.959"/>
<rect class="v" x="533.595" y="325.959"/>
<rect class="v" x="533.595" y="322.959"/>
<rect class="v" x="533.595" y="319.959"/>
<rect class="v" x="533.595" y="316.959"/>
<rect class="v" x="533.595" y="313.959"/>
<rect class="v" x="533.595" y="310.959"/>
<rect class="v" x="533.595" y="307.959"/>
<rect class="v" x="533.595" y="304.959"/>
<rect class="v" x="533.595" y="301.959"/>
<rect class="v" x="533.595" y="298.959"/>
<rect class="v" x="533.595" y="295.959"/>
<rect class="v" x="533.595" y="292.959"/>
<rect class="v" x="533.595" y="289.959"/>
<rect class="v" x="533.595" y="286.959"/>
<rect class="v" x="533.595" y="283.959"/>
<rect class="v" x="533.595" y="280.959"/>
<rect class="v" x="533.595" y="277.959"/>
<rect class="v" x="533.595" y="274.959"/>
<rect class="v" x="533.595" y="271.959"/>
<rect class="v" x="533.595" y="268.959"/>
<rect class="v" x="533.595" y="265.959"/>
<rect class="v" x="533.595" y="262.959"/>
<rect class="v" x="533.595" y="259.959"/>
<rect class="v" x="533.595" y="256.959"/>
<rect class="v" x="533.595" y="253.958"/>
<rect class="v" x="533.595" y="250.958"/>
<rect class="v" x="533.595" y="247.958"/>
<rect class="v" x="533.595" y="244.958"/>
<rect class="v" x="533.595" y="241.958"/>
<rect class="v" x="533.595" y="238.958"/>
<rect class="v" x="533.595" y="235.958"/>
<rect class="v" x="533.595" y="232.958"/>
<rect class="v" x="533.595" y="229.958"/>
<rect class="v" x="533.595" y="226.958"/>
<rect class="v" x="533.595" y="223.958"/>
<rect class="v" x="533.595" y="220.958"/>
<rect class="v" x="533.595" y="217.958"/>
<rect class="v" x="533.595" y="214.958"/>
<rect class="v" x="533.595" y="211.958"/>
<rect class="v" x="533.595" y="208.958"/>
<rect class="v" x="533.595" y="205.958"/>
<rect class="v" x="533.595" y="202.958"/>
<rect class="v" x="533.595" y="199.958"/>
<rect class="v" x="533.595" y="196.958"/>
<rect class="v" x="533.595" y="193.958"/>
<rect class="v" x="533.595" y="190.958"/>
<rect class="v" x="533.595" y="187.958"/>
<rect class="v" x="533.595" y="184.958"/>
<rect class="v" x="533.595" y="181.958"/>
<rect class="v" x="533.595" y="178.958"/>
<rect class="v" x="533.595" y="175.958"/>
<rect class="v" x="533.595" y="172.958"/>
<rect class="v" x="533.595" y="169.958"/>
<rect class="v" x="533.595" y="166.958"/>
<rect class="v" x="533.595" y="163.958"/>
<rect class="v" x="533.595" y="160.958"/>
<rect class="v" x="533.595" y="157.958"/>
<rect class="v" x="533.595" y="154.958"/>
<rect class="v" x="533.595" y="151.958"/>
<rect class="v" x="533.595" y="148.958"/>
<rect class="v" x="533.595" y="145.958"/>
<rect class="v" x="533.595" y="142.958"/>
<rect class="v" x="533.595" y="139.958"/>
<rect class="v" x="533.595" y="136.958"/>
<rect class="v" x="533.595" y="133.958"/>
<rect class="v" x="533.595" y="130.958"/>
<rect class="v" x="533.595" y="127.959"/>
<rect class="v" x="533.595" y="124.959"/>
<rect class="v" x="533.595" y="121.959"/>
<rect class="v" x="533.595" y="118.959"/>
<rect class="v" x="533.595" y="115.959"/>
<rect class="v" x="533.595" y="112.959"/>
<rect class="v" x="533.595" y="109.959"/>
<rect class="v" x="533.595" y="106.959"/>
<rect class="v" x="533.595" y="103.959"/>
<rect class="v" x="533.595" y="100.959"/>
<rect class="v" x="533.595" y="97.959"/>
<rect class="v" x="533.595" y="94.959"/>
<rect class="v" x="533.595" y="91.959"/>
<rect class="v" x="533.595" y="88.959"/>
<rect class="v" x="533.595" y="85.959"/>
<rect class="v" x="533.595" y="82.959"/>
<rect class="v" x="533.595" y="79.959"/>
<rect class="v" x="533.595" y="76.959"/>
<rect class="v" x="533.595" y="73.959"/>
<rect class="v" x="641.525" y="646.958"/>
<rect class="v" x="641.525" y="643.958"/>
<rect class="v" x="641.525" y="640.958"/>
<rect class="v" x="641.525" y="637.958"/>
<rect class="v" x="641.525" y="634.958"/>
<rect class="v" x="641.525" y="631.958"/>
<rect class="v" x="641.525" y="628.958"/>
<rect class="v" x="641.525" y="625.958"/>
<rect class="v" x="641.525" y="622.958"/>
<rect class="v" x="641.525" y="619.958"/>
<rect class="v" x="641.525" y="616.958"/>
<rect class="v" x="641.525" y="613.958"/>
<rect class="v" x="641.525" y="610.958"/>
<rect class="v" x="641.525" y="607.958"/>
<rect class="v" x="641.525" y="604.958"/>
<rect class="v" x="641.525" y="601.958"/>
<rect class="v" x="641.525" y="598.958"/>
<rect class="v" x="641.525" y="595.958"/>
<rect class="v" x="641.525" y="592.958"/>
<rect class="v" x="641.525" y="589.958"/>
<rect class="v" x="641.525" y="586.958"/>
<rect class="v" x="641.525" y="583.958"/>
<rect class="v" x="641.525" y="580.958"/>
<rect class="v" x="641.525" y="577.958"/>
<rect class="v" x="641.525" y="574.958"/>
<rect class="v" x="641.525" y="571.958"/>
<rect class="v" x="641.525" y="568.958"/>
<rect class="v" x="641.525" y="565.958"/>
<rect class="v" x="641.525" y="562.958"/>
<rect class="v" x="641.525" y="559.958"/>
<rect class="v" x="641.525" y="556.958"/>
<rect class="v" x="641.525" y="553.958"/>
<rect class="v" x="641.525" y="550.958"/>
<rect class="v" x="641.525" y="547.958"/>
<rect class="v" x="641.525" y="544.958"/>
<rect class="v" x="641.525" y="541.958"/>
<rect class="v" x="641.525" y="538.958"/>
<rect class="v" x="641.525" y="535.958"/>
<rect class="v" x="641.525" y="532.958"/>
<rect class="v" x="641.525" y="529.958"/>
<rect class="v" x="641.525" y="526.958"/>
<rect class="v" x="641.525" y="523.958"/>
<rect class="v" x="641.525" y="520.958"/>
<rect class="v" x="641.525" y="517.958"/>
<rect class="v" x="641.525" y="514.958"/>
<rect class="v" x="641.525" y="511.959"/>
<rect class="v" x="641.525" y="508.959"/>
<rect class="v" x="641.525" y="505.959"/>
<rect class="v" x="641.525" y="502.959"/>
<rect class="v" x="641.525" y="499.959"/>
<rect class="v" x="641.525" y="496.959"/>
<rect class="v" x="641.525" y="493.959"/>
<rect class="v" x="641.525" y="490.959"/>
<rect class="v" x="641.525" y="487.959"/>
<rect class="v" x="641.525" y="484.959"/>
<rect class="v" x="641.525" y="481.959"/>
<rect class="v" x="641.525" y="478.959"/>
<rect class="v" x="641.525" y="475.959"/>
<rect class="v" x="641.525" y="472.959"/>
<rect class="v" x="641.525" y="469.959"/>
<rect class="v" x="641.525" y="466.959"/>
<rect class="v" x="641.525" y="463.959"/>
<rect class="v" x="641.525" y="460.959"/>
<rect class="v" x="641.525" y="457.959"/>
<rect class="v" x="641.525" y="454.959"/>
<rect class="v" x="641.525" y="451.959"/>
<rect class="v" x="641.525" y="448.959"/>
<rect class="v" x="641.525" y="445.959"/>
<rect class="v" x="641.525" y="442.959"/>
<rect class="v" x="641.525" y="439.959"/>
<rect class="v" x="641.525" y="436.959"/>
<rect class="v" x="641.525" y="433.959"/>
<rect class="v" x="641.525" y="430.959"/>
<rect class="v" x="641.525" y="427.959"/>
<rect class="v" x="641.525" y="424.959"/>
<rect class="v" x="641.525" y="421.959"/>
<rect class="v" x="641.525" y="418.959"/>
<rect class="v" x="641.525" y="415.959"/>
<rect class="v" x="641.525" y="412.959"/>
<rect class="v" x="641.525" y="409.959"/>
<rect class="v" x="641.525" y="406.959"/>
<rect class="v" x="641.525" y="403.959"/>
<rect class="v" x="641.525" y="400.959"/>
<rect class="v" x="641.525" y="397.959"/>
<rect class="v" x="641.525" y="394.959"/>
<rect class="v" x="641.525" y="391.959"/>
<rect class="v" x="641.525" y="388.959"/>
<rect class="v" x="641.525" y="385.959"/>
<rect class="v" x="641.525" y="382.959"/>
<rect class="v" x="641.525" y="379.959"/>
<rect class="v" x="641.525" y="376.959"/>
<rect class="v" x="641.525" y="373.959"/>
<rect class="v" x="641.525" y="370.959"/>
<rect class="v" x="641.525" y="367.959"/>
<rect class="v" x="641.525" y="364.959"/>
<rect class="v" x="641.525" y="361.959"/>
<rect class="v" x="641.525" y="358.959"/>
<rect class="v" x="641.525" y="355.959"/>
<rect class="v" x="641.525" y="352.959"/>
<rect class="v" x="641.525" y="349.959"/>
<rect class="v" x="641.525" y="346.959"/>
<rect class="v" x="641.525" y="343.959"/>
<rect class="v" x="641.525" y="340.959"/>
<rect class="v" x="641.525" y="337.959"/>
<rect class="v" x="641.525" y="334.959"/>
<rect class="v" x="641.525" y="331.959"/>
<rect class="v" x="641.525" y="328.959"/>
<rect class="v" x="641.525" y="325.959"/>
<rect class="v" x="641.525" y="322.959"/>
<rect class="v" x="641.525" y="319.959"/>
<rect class="v" x="641.525" y="316.959"/>
<rect class="v" x="641.525" y="313.959"/>
<rect class="v" x="641.525" y="310.959"/>
<rect class="v" x="641.525" y="307.959"/>
<rect class="v" x="641.525" y="304.959"/>
<rect class="v" x="641.525" y="301.959"/>
<rect class="v" x="641.525" y="298.959"/>
<rect class="v" x="641.525" y="295.959"/>
<rect class="v" x="641.525" y="292.959"/>
<rect class="v" x="641.525" y="289.959"/>
<rect class="v" x="641.525" y="286.959"/>
<rect class="v" x="641.525" y="283.959"/>
<rect class="v" x="641.525" y="280.959"/>
<rect class="v" x="641.525" y="277.959"/>
<rect class="v" x="641.525" y="274.959"/>
<rect class="v" x="641.525" y="271.959"/>
<rect class="v" x="641.525" y="268.959"/>
<rect class="v" x="641.525" y="265.959"/>
<rect class="v" x="641.525" y="262.959"/>
<rect class="v" x="641.525" y="259.959"/>
<rect class="v" x="641.525" y="256.959"/>
<rect class="v" x="641.525" y="253.958"/>
<rect class="v" x="641.525" y="250.958"/>
<rect class="v" x="641.525" y="247.958"/>
<rect class="v" x="641.525" y="244.958"/>
<rect class="v" x="641.525" y="241.958"/>
<rect class="v" x="641.525" y="238.958"/>
<rect class="v" x="641.525" y="235.958"/>
<rect class="v" x="641.525" y="232.958"/>
<rect class="v" x="641.525" y="229.958"/>
<rect class="v" x="641.525" y="226.958"/>
<rect class="v" x="641.525" y="223.958"/>
<rect class="v" x="641.525" y="220.958"/>
<rect class="v" x="641.525" y="217.958"/>
<rect class="v" x="641.525" y="214.958"/>
<rect class="v" x="641.525" y="211.958"/>
<rect class="v" x="641.525" y="208.958"/>
<rect class="v" x="641.525" y="205.958"/>
<rect class="v" x="641.525" y="202.958"/>
<rect class="v" x="641.525" y="199.958"/>
<rect class="v" x="641.525" y="196.958"/>
<rect class="v" x="641.525" y="193.958"/>
<rect class="v" x="641.525" y="190.958"/>
<rect class="v" x="641.525" y="187.958"/>
<rect class="v" x="641.525" y="184.958"/>
<rect class="v" x="641.525" y="181.958"/>
<rect class="v" x="641.525" y="178.958"/>
<rect class="v" x="641.525" y="175.958"/>
<rect class="v" x="641.525" y="172.958"/>
<rect class="v" x="641.525" y="169.958"/>
<rect class="v" x="641.525" y="166.958"/>
<rect class="v" x="641.525" y="163.958"/>
<rect class="v" x="641.525" y="160.958"/>
<rect class="v" x="641.525" y="157.958"/>
<rect class="v" x="641.525" y="154.958"/>
<rect class="v" x="641.525" y="151.958"/>
<rect class="v" x="641.525" y="148.958"/>
<rect class="v" x="641.525" y="145.958"/>
<rect class="v" x="641.525" y="142.958"/>
<rect class="v" x="641.525" y="139.958"/>
<rect class="v" x="641.525" y="136.958"/>
<rect class="v" x="641.525" y="133.958"/>
<rect class="v" x="641.525" y="130.958"/>
<rect class="v" x="641.525" y="127.959"/>
<rect class="v" x="641.525" y="124.959"/>
<rect class="v" x="641.525" y="121.959"/>
<rect class="v" x="641.525" y="118.959"/>
<rect class="v" x="641.525" y="115.959"/>
<rect class="v" x="641.525" y="112.959"/>
<rect class="v" x="641.525" y="109.959"/>
<rect class="v" x="641.525" y="106.959"/>
<rect class="v" x="641.525" y="103.959"/>
<rect class="v" x="641.525" y="100.959"/>
<rect class="v" x="641.525" y="97.959"/>
<rect class="v" x="641.525" y="94.959"/>
<rect class="v" x="641.525" y="91.959"/>
<rect class="v" x="641.525" y="88.959"/>
<rect class="v" x="641.525" y="85.959"/>
<rect class="v" x="641.525" y="82.959"/>
<rect class="v" x="641.525" y="79.959"/>
<rect class="v" x="641.525" y="76.959"/>
<rect class="v" x="641.525" y="73.959"/>
<rect class="v" x="749.465" y="646.958"/>
<rect class="v" x="749.465" y="643.958"/>
<rect class="v" x="749.465" y="640.958"/>
<rect class="v" x="749.465" y="637.958"/>
<rect class="v" x="749.465" y="634.958"/>
<rect class="v" x="749.465" y="631.958"/>
<rect class="v" x="749.465" y="628.958"/>
<rect class="v" x="749.465" y="625.958"/>
<rect class="v" x="749.465" y="622.958"/>
<rect class="v" x="749.465" y="619.958"/>
<rect class="v" x="749.465" y="616.958"/>
<rect class="v" x="749.465" y="613.958"/>
<rect class="v" x="749.465" y="610.958"/>
<rect class="v" x="749.465" y="607.958"/>
<rect class="v" x="749.465" y="604.958"/>
<rect class="v" x="749.465" y="601.958"/>
<rect class="v" x="749.465" y="598.958"/>
<rect class="v" x="749.465" y="595.958"/>
<rect class="v" x="749.465" y="592.958"/>
<rect class="v" x="749.465" y="589.958"/>
<rect class="v" x="749.465" y="586.958"/>
<rect class="v" x="749.465" y="583.958"/>
<rect class="v" x="749.465" y="580.958"/>
<rect class="v" x="749.465" y="577.958"/>
<rect class="v" x="749.465" y="574.958"/>
<rect class="v" x="749.465" y="571.958"/>
<rect class="v" x="749.465" y="568.958"/>
<rect class="v" x="749.465" y="565.958"/>
<rect class="v" x="749.465" y="562.958"/>
<rect class="v" x="749.465" y="559.958"/>
<rect class="v" x="749.465" y="556.958"/>
<rect class="v" x="749.465" y="553.958"/>
<rect class="v" x="749.465" y="550.958"/>
<rect class="v" x="749.465" y="547.958"/>
<rect class="v" x="749.465" y="544.958"/>
<rect class="v" x="749.465" y="541.958"/>
<rect class="v" x="749.465" y="538.958"/>
<rect class="v" x="749.465" y="535.958"/>
<rect class="v" x="749.465" y="532.958"/>
<rect class="v" x="749.465" y="529.958"/>
<rect class="v" x="749.465" y="526.958"/>
<rect class="v" x="749.465" y="523.958"/>
<rect class="v" x="749.465" y="520.958"/>
<rect class="v" x="749.465" y="517.958"/>
<rect class="v" x="749.465" y="514.958"/>
<rect class="v" x="749.465" y="511.959"/>
<rect class="v" x="749.465" y="508.959"/>
<rect class="v" x="749.465" y="505.959"/>
<rect class="v" x="749.465" y="502.959"/>
<rect class="v" x="749.465" y="499.959"/>
<rect class="v" x="749.465" y="496.959"/>
<rect class="v" x="749.465" y="493.959"/>
<rect class="v" x="749.465" y="490.959"/>
<rect class="v" x="749.465" y="487.959"/>
<rect class="v" x="749.465" y="484.959"/>
<rect class="v" x="749.465" y="481.959"/>
<rect class="v" x="749.465" y="478.959"/>
<rect class="v" x="749.465" y="475.959"/>
<rect class="v" x="749.465" y="472.959"/>
<rect class="v" x="749.465" y="469.959"/>
<rect class="v" x="749.465" y="466.959"/>
<rect class="v" x="749.465" y="463.959"/>
<rect class="v" x="749.465" y="460.959"/>
<rect class="v" x="749.465" y="457.959"/>
<rect class="v" x="749.465" y="454.959"/>
<rect class="v" x="749.465" y="451.959"/>
<rect class="v" x="749.465" y="448.959"/>
<rect class="v" x="749.465" y="445.959"/>
<rect class="v" x="749.465" y="442.959"/>
<rect class="v" x="749.465" y="439.959"/>
<rect class="v" x="749.465" y="436.959"/>
<rect class="v" x="749.465" y="433.959"/>
<rect class="v" x="749.465" y="430.959"/>
<rect class="v" x="749.465" y="427.959"/>
<rect class="v" x="749.465" y="424.959"/>
<rect class="v" x="749.465" y="421.959"/>
<rect class="v" x="749.465" y="418.959"/>
<rect class="v" x="749.465" y="415.959"/>
<rect class="v" x="749.465" y="412.959"/>
<rect class="v" x="749.465" y="409.959"/>
<rect class="v" x="749.465" y="406.959"/>
<rect class="v" x="749.465" y="403.959"/>
<rect class="v" x="749.465" y="400.959"/>
<rect class="v" x="749.465" y="397.959"/>
<rect class="v" x="749.465" y="394.959"/>
<rect class="v" x="749.465" y="391.959"/>
<rect class="v" x="749.465" y="388.959"/>
<rect class="v" x="749.465" y="385.959"/>
<rect class="v" x="749.465" y="382.959"/>
<rect class="v" x="749.465" y="379.959"/>
<rect class="v" x="749.465" y="376.959"/>
<rect class="v" x="749.465" y="373.959"/>
<rect class="v" x="749.465" y="370.959"/>
<rect class="v" x="749.465" y="367.959"/>
<rect class="v" x="749.465" y="364.959"/>
<rect class="v" x="749.465" y="361.959"/>
<rect class="v" x="749.465" y="358.959"/>
<rect class="v" x="749.465" y="355.959"/>
<rect class="v" x="749.465" y="352.959"/>
<rect class="v" x="749.465" y="349.959"/>
<rect class="v" x="749.465" y="346.959"/>
<rect class="v" x="749.465" y="343.959"/>
<rect class="v" x="749.465" y="340.959"/>
<rect class="v" x="749.465" y="337.959"/>
<rect class="v" x="749.465" y="334.959"/>
<rect class="v" x="749.465" y="331.959"/>
<rect class="v" x="749.465" y="328.959"/>
<rect class="v" x="749.465" y="325.959"/>
<rect class="v" x="749.465" y="322.959"/>
<rect class="v" x="749.465" y="319.959"/>
<rect class="v" x="749.465" y="316.959"/>
<rect class="v" x="749.465" y="313.959"/>
<rect class="v" x="749.465" y="310.959"/>
<rect class="v" x="749.465" y="307.959"/>
<rect class="v" x="749.465" y="304.959"/>
<rect class="v" x="749.465" y="301.959"/>
<rect class="v" x="749.465" y="298.959"/>
<rect class="v" x="749.465" y="295.959"/>
<rect class="v" x="749.465" y="292.959"/>
<rect class="v" x="749.465" y="289.959"/>
<rect class="v" x="749.465" y="286.959"/>
<rect class="v" x="749.465" y="283.959"/>
<rect class="v" x="749.465" y="280.959"/>
<rect class="v" x="749.465" y="277.959"/>
<rect class="v" x="749.465" y="274.959"/>
<rect class="v" x="749.465" y="271.959"/>
<rect class="v" x="749.465" y="268.959"/>
<rect class="v" x="749.465" y="265.959"/>
<rect class="v" x="749.465" y="262.959"/>
<rect class="v" x="749.465" y="259.959"/>
<rect class="v" x="749.465" y="256.959"/>
<rect class="v" x="749.465" y="253.958"/>
<rect class="v" x="749.465" y="250.958"/>
<rect class="v" x="749.465" y="247.958"/>
<rect class="v" x="749.465" y="244.958"/>
<rect class="v" x="749.465" y="241.958"/>
<rect class="v" x="749.465" y="238.958"/>
<rect class="v" x="749.465" y="235.958"/>
<rect class="v" x="749.465" y="232.958"/>
<rect class="v" x="749.465" y="229.958"/>
<rect class="v" x="749.465" y="226.958"/>
<rect class="v" x="749.465" y="223.958"/>
<rect class="v" x="749.465" y="220.958"/>
<rect class="v" x="749.465" y="217.958"/>
<rect class="v" x="749.465" y="214.958"/>
<rect class="v" x="749.465" y="211.958"/>
<rect class="v" x="749.465" y="208.958"/>
<rect class="v" x="749.465" y="205.958"/>
<rect class="v" x="749.465" y="202.958"/>
<rect class="v" x="749.465" y="199.958"/>
<rect class="v" x="749.465" y="196.958"/>
<rect class="v" x="749.465" y="193.958"/>
<rect class="v" x="749.465" y="190.958"/>
<rect class="v" x="749.465" y="187.958"/>
<rect class="v" x="749.465" y="184.958"/>
<rect class="v" x="749.465" y="181.958"/>
<rect class="v" x="749.465" y="178.958"/>
<rect class="v" x="749.465" y="175.958"/>
<rect class="v" x="749.465" y="172.958"/>
<rect class="v" x="749.465" y="169.958"/>
<rect class="v" x="749.465" y="166.958"/>
<rect class="v" x="749.465" y="163.958"/>
<rect class="v" x="749.465" y="160.958"/>
<rect class="v" x="749.465" y="157.958"/>
<rect class="v" x="749.465" y="154.958"/>
<rect class="v" x="749.465" y="151.958"/>
<rect class="v" x="749.465" y="148.958"/>
<rect class="v" x="749.465" y="145.958"/>
<rect class="v" x="749.465" y="142.958"/>
<rect class="v" x="749.465" y="139.958"/>
<rect class="v" x="749.465" y="136.958"/>
<rect class="v" x="749.465" y="133.958"/>
<rect class="v" x="749.465" y="130.958"/>
<rect class="v" x="749.465" y="127.959"/>
<rect class="v" x="749.465" y="124.959"/>
<rect class="v" x="749.465" y="121.959"/>
<rect class="v" x="749.465" y="118.959"/>
<rect class="v" x="749.465" y="115.959"/>
<rect class="v" x="749.465" y="112.959"/>
<rect class="v" x="749.465" y="109.959"/>
<rect class="v" x="749.465" y="106.959"/>
<rect class="v" x="749.465" y="103.959"/>
<rect class="v" x="749.465" y="100.959"/>
<rect class="v" x="749.465" y="97.959"/>
<rect class="v" x="749.465" y="94.959"/>
<rect class="v" x="749.465" y="91.959"/>
<rect class="v" x="749.465" y="88.959"/>
<rect class="v" x="749.465" y="85.959"/>
<rect class="v" x="749.465" y="82.959"/>
<rect class="v" x="749.465" y="79.959"/>
<rect class="v" x="749.465" y="76.959"/>
<rect class="v" x="749.465" y="73.959"/>
<rect class="v" x="857.405" y="646.958"/>
<rect class="v" x="857.405" y="643.958"/>
<rect class="v" x="857.405" y="640.958"/>
<rect class="v" x="857.405" y="637.958"/>
<rect class="v" x="857.405" y="634.958"/>
<rect class="v" x="857.405" y="631.958"/>
<rect class="v" x="857.405" y="628.958"/>
<rect class="v" x="857.405" y="625.958"/>
<rect class="v" x="857.405" y="622.958"/>
<rect class="v" x="857.405" y="619.958"/>
<rect class="v" x="857.405" y="616.958"/>
<rect class="v" x="857.405" y="613.958"/>
<rect class="v" x="857.405" y="610.958"/>
<rect class="v" x="857.405" y="607.958"/>
<rect class="v" x="857.405" y="604.958"/>
<rect class="v" x="857.405" y="601.958"/>
<rect class="v" x="857.405" y="598.958"/>
<rect class="v" x="857.405" y="595.958"/>
<rect class="v" x="857.405" y="592.958"/>
<rect class="v" x="857.405" y="589.958"/>
<rect class="v" x="857.405" y="586.958"/>
<rect class="v" x="857.405" y="583.958"/>
<rect class="v" x="857.405" y="580.958"/>
<rect class="v" x="857.405" y="577.958"/>
<rect class="v" x="857.405" y="574.958"/>
<rect class="v" x="857.405" y="571.958"/>
<rect class="v" x="857.405" y="568.958"/>
<rect class="v" x="857.405" y="565.958"/>
<rect class="v" x="857.405" y="562.958"/>
<rect class="v" x="857.405" y="559.958"/>
<rect class="v" x="857.405" y="556.958"/>
<rect class="v" x="857.405" y="553.958"/>
<rect class="v" x="857.405" y="550.958"/>
<rect class="v" x="857.405" y="547.958"/>
<rect class="v" x="857.405" y="544.958"/>
<rect class="v" x="857.405" y="541.958"/>
<rect class="v" x="857.405" y="538.958"/>
<rect class="v" x="857.405" y="535.958"/>
<rect class="v" x="857.405" y="532.958"/>
<rect class="v" x="857.405" y="529.958"/>
<rect class="v" x="857.405" y="526.958"/>
<rect class="v" x="857.405" y="523.958"/>
<rect class="v" x="857.405" y="520.958"/>
<rect class="v" x="857.405" y="517.958"/>
<rect class="v" x="857.405" y="514.958"/>
<rect class="v" x="857.405" y="511.959"/>
<rect class="v" x="857.405" y="508.959"/>
<rect class="v" x="857.405" y="505.959"/>
<rect class="v" x="857.405" y="502.959"/>
<rect class="v" x="857.405" y="499.959"/>
<rect class="v" x="857.405" y="496.959"/>
<rect class="v" x="857.405" y="493.959"/>
<rect class="v" x="857.405" y="490.959"/>
<rect class="v" x="857.405" y="487.959"/>
<rect class="v" x="857.405" y="484.959"/>
<rect class="v" x="857.405" y="481.959"/>
<rect class="v" x="857.405" y="478.959"/>
<rect class="v" x="857.405" y="475.959"/>
<rect class="v" x="857.405" y="472.959"/>
<rect class="v" x="857.405" y="469.959"/>
<rect class="v" x="857.405" y="466.959"/>
<rect class="v" x="857.405" y="463.959"/>
<rect class="v" x="857.405" y="460.959"/>
<rect class="v" x="857.405" y="457.959"/>
<rect class="v" x="857.405" y="454.959"/>
<rect class="v" x="857.405" y="451.959"/>
<rect class="v" x="857.405" y="448.959"/>
<rect class="v" x="857.405" y="445.959"/>
<rect class="v" x="857.405" y="442.959"/>
<rect class="v" x="857.405" y="439.959"/>
<rect class="v" x="857.405" y="436.959"/>
<rect class="v" x="857.405" y="433.959"/>
<rect class="v" x="857.405" y="430.959"/>
<rect class="v" x="857.405" y="427.959"/>
<rect class="v" x="857.405" y="424.959"/>
<rect class="v" x="857.405" y="421.959"/>
<rect class="v" x="857.405" y="418.959"/>
<rect class="v" x="857.405" y="415.959"/>
<rect class="v" x="857.405" y="412.959"/>
<rect class="v" x="857.405" y="409.959"/>
<rect class="v" x="857.405" y="406.959"/>
<rect class="v" x="857.405" y="403.959"/>
<rect class="v" x="857.405" y="400.959"/>
<rect class="v" x="857.405" y="397.959"/>
<rect class="v" x="857.405" y="394.959"/>
<rect class="v" x="857.405" y="391.959"/>
<rect class="v" x="857.405" y="388.959"/>
<rect class="v" x="857.405" y="385.959"/>
<rect class="v" x="857.405" y="382.959"/>
<rect class="v" x="857.405" y="379.959"/>
<rect class="v" x="857.405" y="376.959"/>
<rect class="v" x="857.405" y="373.959"/>
<rect class="v" x="857.405" y="370.959"/>
<rect class="v" x="857.405" y="367.959"/>
<rect class="v" x="857.405" y="364.959"/>
<rect class="v" x="857.405" y="361.959"/>
<rect class="v" x="857.405" y="358.959"/>
<rect class="v" x="857.405" y="355.959"/>
<rect class="v" x="857.405" y="352.959"/>
<rect class="v" x="857.405" y="349.959"/>
<rect class="v" x="857.405" y="346.959"/>
<rect class="v" x="857.405" y="343.959"/>
<rect class="v" x="857.405" y="340.959"/>
<rect class="v" x="857.405" y="337.959"/>
<rect class="v" x="857.405" y="334.959"/>
<rect class="v" x="857.405" y="331.959"/>
<rect class="v" x="857.405" y="328.959"/>
<rect class="v" x="857.405" y="325.959"/>
<rect class="v" x="857.405" y="322.959"/>
<rect class="v" x="857.405" y="319.959"/>
<rect class="v" x="857.405" y="316.959"/>
<rect class="v" x="857.405" y="313.959"/>
<rect class="v" x="857.405" y="310.959"/>
<rect class="v" x="857.405" y="307.959"/>
<rect class="v" x="857.405" y="304.959"/>
<rect class="v" x="857.405" y="301.959"/>
<rect class="v" x="857.405" y="298.959"/>
<rect class="v" x="857.405" y="295.959"/>
<rect class="v" x="857.405" y="292.959"/>
<rect class="v" x="857.405" y="289.959"/>
<rect class="v" x="857.405" y="286.959"/>
<rect class="v" x="857.405" y="283.959"/>
<rect class="v" x="857.405" y="280.959"/>
<rect class="v" x="857.405" y="277.959"/>
<rect class="v" x="857.405" y="274.959"/>
<rect class="v" x="857.405" y="271.959"/>
<rect class="v" x="857.405" y="268.959"/>
<rect class="v" x="857.405" y="265.959"/>
<rect class="v" x="857.405" y="262.959"/>
<rect class="v" x="857.405" y="259.959"/>
<rect class="v" x="857.405" y="256.959"/>
<rect class="v" x="857.405" y="253.958"/>
<rect class="v" x="857.405" y="250.958"/>
<rect class="v" x="857.405" y="247.958"/>
<rect class="v" x="857.405" y="244.958"/>
<rect class="v" x="857.405" y="241.958"/>
<rect class="v" x="857.405" y="238.958"/>
<rect class="v" x="857.405" y="235.958"/>
<rect class="v" x="857.405" y="232.958"/>
<rect class="v" x="857.405" y="229.958"/>
<rect class="v" x="857.405" y="226.958"/>
<rect class="v" x="857.405" y="223.958"/>
<rect class="v" x="857.405" y="220.958"/>
<rect class="v" x="857.405" y="217.958"/>
<rect class="v" x="857.405" y="214.958"/>
<rect class="v" x="857.405" y="211.958"/>
<rect class="v" x="857.405" y="208.958"/>
<rect class="v" x="857.405" y="205.958"/>
<rect class="v" x="857.405" y="202.958"/>
<rect class="v" x="857.405" y="199.958"/>
<rect class="v" x="857.405" y="196.958"/>
<rect class="v" x="857.405" y="193.958"/>
<rect class="v" x="857.405" y="190.958"/>
<rect class="v" x="857.405" y="187.958"/>
<rect class="v" x="857.405" y="184.958"/>
<rect class="v" x="857.405" y="181.958"/>
<rect class="v" x="857.405" y="178.958"/>
<rect class="v" x="857.405" y="175.958"/>
<rect class="v" x="857.405" y="172.958"/>
<rect class="v" x="857.405" y="169.958"/>
<rect class="v" x="857.405" y="166.958"/>
<rect class="v" x="857.405" y="163.958"/>
<rect class="v" x="857.405" y="160.958"/>
<rect class="v" x="857.405" y="157.958"/>
<rect class="v" x="857.405" y="154.958"/>
<rect class="v" x="857.405" y="151.958"/>
<rect class="v" x="857.405" y="148.958"/>
<rect class="v" x="857.405" y="145.958"/>
<rect class="v" x="857.405" y="142.958"/>
<rect class="v" x="857.405" y="139.958"/>
<rect class="v" x="857.405" y="136.958"/>
<rect class="v" x="857.405" y="133.958"/>
<rect class="v" x="857.405" y="130.958"/>
<rect class="v" x="857.405" y="127.959"/>
<rect class="v" x="857.405" y="124.959"/>
<rect class="v" x="857.405" y="121.959"/>
<rect class="v" x="857.405" y="118.959"/>
<rect class="v" x="857.405" y="115.959"/>
<rect class="v" x="857.405" y="112.959"/>
<rect class="v" x="857.405" y="109.959"/>
<rect class="v" x="857.405" y="106.959"/>
<rect class="v" x="857.405" y="103.959"/>
<rect class="v" x="857.405" y="100.959"/>
<rect class="v" x="857.405" y="97.959"/>
<rect class="v" x="857.405" y="94.959"/>
<rect class="v" x="857.405" y="91.959"/>
<rect class="v" x="857.405" y="88.959"/>
<rect class="v" x="857.405" y="85.959"/>
<rect class="v" x="857.405" y="82.959"/>
<rect class="v" x="857.405" y="79.959"/>
<rect class="v" x="857.405" y="76.959"/>
<rect class="v" x="857.405" y="73.959"/>
<rect class="h" x="71.709" y="340.575"/>
<rect class="h" x="74.709" y="340.575"/>
<rect class="h" x="77.709" y="340.575"/>
<rect class="h" x="80.709" y="340.575"/>
<rect class="h" x="83.709" y="340.575"/>
<rect class="h" x="86.709" y="340.575"/>
<rect class="h" x="89.709" y="340.575"/>
<rect class="h" x="92.709" y="340.575"/>
<rect class="h" x="95.709" y="340.575"/>
<rect class="h" x="98.709" y="340.575"/>
<rect class="h" x="101.709" y="340.575"/>
<rect class="h" x="104.709" y="340.575"/>
<rect class="h" x="107.709" y="340.575"/>
<rect class="h" x="110.709" y="340.575"/>
<rect class="h" x="113.709" y="340.575"/>
<rect class="h" x="116.709" y="340.575"/>
<rect class="h" x="119.709" y="340.575"/>
<rect class="h" x="122.709" y="340.575"/>
<rect class="h" x="125.709" y="340.575"/>
<rect class="h" x="128.708" y="340.575"/>
<rect class="h" x="131.708" y="340.575"/>
<rect class="h" x="134.708" y="340.575"/>
<rect class="h" x="137.708" y="340.575"/>
<rect class="h" x="140.708" y="340.575"/>
<rect class="h" x="143.708" y="340.575"/>
<rect class="h" x="146.708" y="340.575"/>
<rect class="h" x="149.708" y="340.575"/>
<rect class="h" x="152.708" y="340.575"/>
<rect class="h" x="155.708" y="340.575"/>
<rect class="h" x="158.708" y="340.575"/>
<rect class="h" x="161.708" y="340.575"/>
<rect class="h" x="164.708" y="340.575"/>
<rect class="h" x="167.708" y="340.575"/>
<rect class="h" x="170.708" y="340.575"/>
<rect class="h" x="173.708" y="340.575"/>
<rect class="h" x="176.708" y="340.575"/>
<rect class="h" x="179.708" y="340.575"/>
<rect class="h" x="182.708" y="340.575"/>
<rect class="h" x="185.708" y="340.575"/>
<rect class="h" x="188.708" y="340.575"/>
<rect class="h" x="191.708" y="340.575"/>
<rect class="h" x="194.708" y="340.575"/>
<rect class="h" x="197.708" y="340.575"/>
<rect class="h" x="200.708" y="340.575"/>
<rect class="h" x="203.708" y="340.575"/>
<rect class="h" x="206.708" y="340.575"/>
<rect class="h" x="209.708" y="340.575"/>
<rect class="h" x="212.708" y="340.575"/>
<rect class="h" x="215.708" y="340.575"/>
<rect class="h" x="218.708" y="340.575"/>
<rect class="h" x="221.708" y="340.575"/>
<rect class="h" x="224.708" y="340.575"/>
<rect class="h" x="227.708" y="340.575"/>
<rect class="h" x="230.708" y="340.575"/>
<rect class="h" x="233.708" y="340.575"/>
<rect class="h" x="236.708" y="340.575"/>
<rect class="h" x="239.708" y="340.575"/>
<rect class="h" x="242.708" y="340.575"/>
<rect class="h" x="245.708" y="340.575"/>
<rect class="h" x="248.708" y="340.575"/>
<rect class="h" x="251.708" y="340.575"/>
<rect class="h" x="254.708" y="340.575"/>
<rect class="h" x="257.709" y="340.575"/>
<rect class="h" x="260.709" y="340.575"/>
<rect class="h" x="263.709" y="340.575"/>
<rect class="h" x="266.709" y="340.575"/>
<rect class="h" x="269.709" y="340.575"/>
<rect class="h" x="272.709" y="340.575"/>
<rect class="h" x="275.709" y="340.575"/>
<rect class="h" x="278.709" y="340.575"/>
<rect class="h" x="281.709" y="340.575"/>
<rect class="h" x="284.709" y="340.575"/>
<rect class="h" x="287.709" y="340.575"/>
<rect class="h" x="290.709" y="340.575"/>
<rect class="h" x="293.709" y="340.575"/>
<rect class="h" x="296.709" y="340.575"/>
<rect class="h" x="299.709" y="340.575"/>
<rect class="h" x="302.709" y="340.575"/>
<rect class="h" x="305.709" y="340.575"/>
<rect class="h" x="308.709" y="340.575"/>
<rect class="h" x="311.709" y="340.575"/>
<rect class="h" x="314.709" y="340.575"/>
<rect class="h" x="317.709" y="340.575"/>
<rect class="h" x="320.709" y="340.575"/>
<rect class="h" x="323.709" y="340.575"/>
<rect class="h" x="326.709" y="340.575"/>
<rect class="h" x="329.709" y="340.575"/>
<rect class="h" x="332.709" y="340.575"/>
<rect class="h" x="335.709" y="340.575"/>
<rect class="h" x="338.709" y="340.575"/>
<rect class="h" x="341.709" y="340.575"/>
<rect class="h" x="344.709" y="340.575"/>
<rect class="h" x="347.709" y="340.575"/>
<rect class="h" x="350.709" y="340.575"/>
<rect class="h" x="353.709" y="340.575"/>
<rect class="h" x="356.709" y="340.575"/>
<rect class="h" x="359.709" y="340.575"/>
<rect class="h" x="362.709" y="340.575"/>
<rect class="h" x="365.709" y="340.575"/>
<rect class="h" x="368.709" y="340.575"/>
<rect class="h" x="371.709" y="340.575"/>
<rect class="h" x="374.709" y="340.575"/>
<rect class="h" x="377.709" y="340.575"/>
<rect class="h" x="380.709" y="340.575"/>
<rect class="h" x="383.709" y="340.575"/>
<rect class="h" x="386.709" y="340.575"/>
<rect class="h" x="389.709" y="340.575"/>
<rect class="h" x="392.709" y="340.575"/>
<rect class="h" x="395.709" y="340.575"/>
<rect class="h" x="398.709" y="340.575"/>
<rect class="h" x="401.709" y="340.575"/>
<rect class="h" x="404.709" y="340.575"/>
<rect class="h" x="407.709" y="340.575"/>
<rect class="h" x="410.709" y="340.575"/>
<rect class="h" x="413.709" y="340.575"/>
<rect class="h" x="416.709" y="340.575"/>
<rect class="h" x="419.709" y="340.575"/>
<rect class="h" x="422.709" y="340.575"/>
<rect class="h" x="425.709" y="340.575"/>
<rect class="h" x="428.709" y="340.575"/>
<rect class="h" x="431.709" y="340.575"/>
<rect class="h" x="434.709" y="340.575"/>
<rect class="h" x="437.709" y="340.575"/>
<rect class="h" x="440.709" y="340.575"/>
<rect class="h" x="443.709" y="340.575"/>
<rect class="h" x="446.709" y="340.575"/>
<rect class="h" x="449.709" y="340.575"/>
<rect class="h" x="452.709" y="340.575"/>
<rect class="h" x="455.709" y="340.575"/>
<rect class="h" x="458.709" y="340.575"/>
<rect class="h" x="461.709" y="340.575"/>
<rect class="h" x="464.709" y="340.575"/>
<rect class="h" x="467.709" y="340.575"/>
<rect class="h" x="470.709" y="340.575"/>
<rect class="h" x="473.709" y="340.575"/>
<rect class="h" x="476.709" y="340.575"/>
<rect class="h" x="479.709" y="340.575"/>
<rect class="h" x="482.709" y="340.575"/>
<rect class="h" x="485.709" y="340.575"/>
<rect class="h" x="488.709" y="340.575"/>
<rect class="h" x="491.709" y="340.575"/>
<rect class="h" x="494.709" y="340.575"/>
<rect class="h" x="497.709" y="340.575"/>
<rect class="h" x="500.709" y="340.575"/>
<rect class="h" x="503.709" y="340.575"/>
<rect class="h" x="506.709" y="340.575"/>
<rect class="h" x="509.709" y="340.575"/>
<rect class="h" x="512.708" y="340.575"/>
<rect class="h" x="515.708" y="340.575"/>
<rect class="h" x="518.708" y="340.575"/>
<rect class="h" x="521.708" y="340.575"/>
<rect class="h" x="524.708" y="340.575"/>
<rect class="h" x="527.708" y="340.575"/>
<rect class="h" x="530.708" y="340.575"/>
<rect class="h" x="533.708" y="340.575"/>
<rect class="h" x="536.708" y="340.575"/>
<rect class="h" x="539.708" y="340.575"/>
<rect class="h" x="542.708" y="340.575"/>
<rect class="h" x="545.708" y="340.575"/>
<rect class="h" x="548.708" y="340.575"/>
<rect class="h" x="551.708" y="340.575"/>
<rect class="h" x="554.708" y="340.575"/>
<rect class="h" x="557.708" y="340.575"/>
<rect class="h" x="560.708" y="340.575"/>
<rect class="h" x="563.708" y="340.575"/>
<rect class="h" x="566.708" y="340.575"/>
<rect class="h" x="569.708" y="340.575"/>
<rect class="h" x="572.708" y="340.575"/>
<rect class="h" x="575.708" y="340.575"/>
<rect class="h" x="578.708" y="340.575"/>
<rect class="h" x="581.708" y="340.575"/>
<rect class="h" x="584.708" y="340.575"/>
<rect class="h" x="587.708" y="340.575"/>
<rect class="h" x="590.708" y="340.575"/>
<rect class="h" x="593.708" y="340.575"/>
<rect class="h" x="596.708" y="340.575"/>
<rect class="h" x="599.708" y="340.575"/>
<rect class="h" x="602.708" y="340.575"/>
<rect class="h" x="605.708" y="340.575"/>
<rect class="h" x="608.708" y="340.575"/>
<rect class="h" x="611.708" y="340.575"/>
<rect class="h" x="614.708" y="340.575"/>
<rect class="h" x="617.708" y="340.575"/>
<rect class="h" x="620.708" y="340.575"/>
<rect class="h" x="623.708" y="340.575"/>
<rect class="h" x="626.708" y="340.575"/>
<rect class="h" x="629.708" y="340.575"/>
<rect class="h" x="632.708" y="340.575"/>
<rect class="h" x="635.708" y="340.575"/>
<rect class="h" x="638.708" y="340.575"/>
<rect class="h" x="641.708" y="340.575"/>
<rect class="h" x="644.708" y="340.575"/>
<rect class="h" x="647.708" y="340.575"/>
<rect class="h" x="650.708" y="340.575"/>
<rect class="h" x="653.708" y="340.575"/>
<rect class="h" x="656.708" y="340.575"/>
<rect class="h" x="659.708" y="340.575"/>
<rect class="h" x="662.708" y="340.575"/>
<rect class="h" x="665.708" y="340.575"/>
<rect class="h" x="668.708" y="340.575"/>
<rect class="h" x="671.708" y="340.575"/>
<rect class="h" x="674.708" y="340.575"/>
<rect class="h" x="677.708" y="340.575"/>
<rect class="h" x="680.708" y="340.575"/>
<rect class="h" x="683.708" y="340.575"/>
<rect class="h" x="686.708" y="340.575"/>
<rect class="h" x="689.708" y="340.575"/>
<rect class="h" x="692.708" y="340.575"/>
<rect class="h" x="695.708" y="340.575"/>
<rect class="h" x="698.708" y="340.575"/>
<rect class="h" x="701.708" y="340.575"/>
<rect class="h" x="704.708" y="340.575"/>
<rect class="h" x="707.708" y="340.575"/>
<rect class="h" x="710.708" y="340.575"/>
<rect class="h" x="713.708" y="340.575"/>
<rect class="h" x="716.708" y="340.575"/>
<rect class="h" x="719.708" y="340.575"/>
<rect class="h" x="722.708" y="340.575"/>
<rect class="h" x="725.708" y="340.575"/>
<rect class="h" x="728.708" y="340.575"/>
<rect class="h" x="731.708" y="340.575"/>
<rect class="h" x="734.708" y="340.575"/>
<rect class="h" x="737.708" y="340.575"/>
<rect class="h" x="740.708" y="340.575"/>
<rect class="h" x="743.708" y="340.575"/>
<rect class="h" x="746.708" y="340.575"/>
<rect class="h" x="749.708" y="340.575"/>
<rect class="h" x="752.708" y="340.575"/>
<rect class="h" x="755.708" y="340.575"/>
<rect class="h" x="758.708" y="340.575"/>
<rect class="h" x="761.708" y="340.575"/>
<rect class="h" x="764.708" y="340.575"/>
<rect class="h" x="767.708" y="340.575"/>
<rect class="h" x="770.708" y="340.575"/>
<rect class="h" x="773.708" y="340.575"/>
<rect class="h" x="776.708" y="340.575"/>
<rect class="h" x="779.708" y="340.575"/>
<rect class="h" x="782.708" y="340.575"/>
<rect class="h" x="785.708" y="340.575"/>
<rect class="h" x="788.708" y="340.575"/>
<rect class="h" x="791.708" y="340.575"/>
<rect class="h" x="794.708" y="340.575"/>
<rect class="h" x="797.708" y="340.575"/>
<rect class="h" x="800.708" y="340.575"/>
<rect class="h" x="803.708" y="340.575"/>
<rect class="h" x="806.708" y="340.575"/>
<rect class="h" x="809.708" y="340.575"/>
<rect class="h" x="812.708" y="340.575"/>
<rect class="h" x="815.708" y="340.575"/>
<rect class="h" x="818.708" y="340.575"/>
<rect class="h" x="821.708" y="340.575"/>
<rect class="h" x="824.708" y="340.575"/>
<rect class="h" x="827.708" y="340.575"/>
<rect class="h" x="830.708" y="340.575"/>
<rect class="h" x="833.708" y="340.575"/>
<rect class="h" x="836.708" y="340.575"/>
<rect class="h" x="839.708" y="340.575"/>
<rect class="h" x="842.708" y="340.575"/>
<rect class="h" x="845.708" y="340.575"/>
<rect class="h" x="848.708" y="340.575"/>
<rect class="h" x="851.708" y="340.575"/>
<rect class="h" x="854.708" y="340.575"/>
<rect class="h" x="857.708" y="340.575"/>
<rect class="h" x="860.708" y="340.575"/>
<rect class="h" x="863.708" y="340.575"/>
<rect class="h" x="866.708" y="340.575"/>
<rect class="h" x="869.708" y="340.575"/>
<rect class="h" x="872.708" y="340.575"/>
<rect class="h" x="875.708" y="340.575"/>
<rect class="h" x="878.708" y="340.575"/>
<rect class="h" x="881.708" y="340.575"/>
<rect class="h" x="884.708" y="340.575"/>
</g>
</svg></body></html>
